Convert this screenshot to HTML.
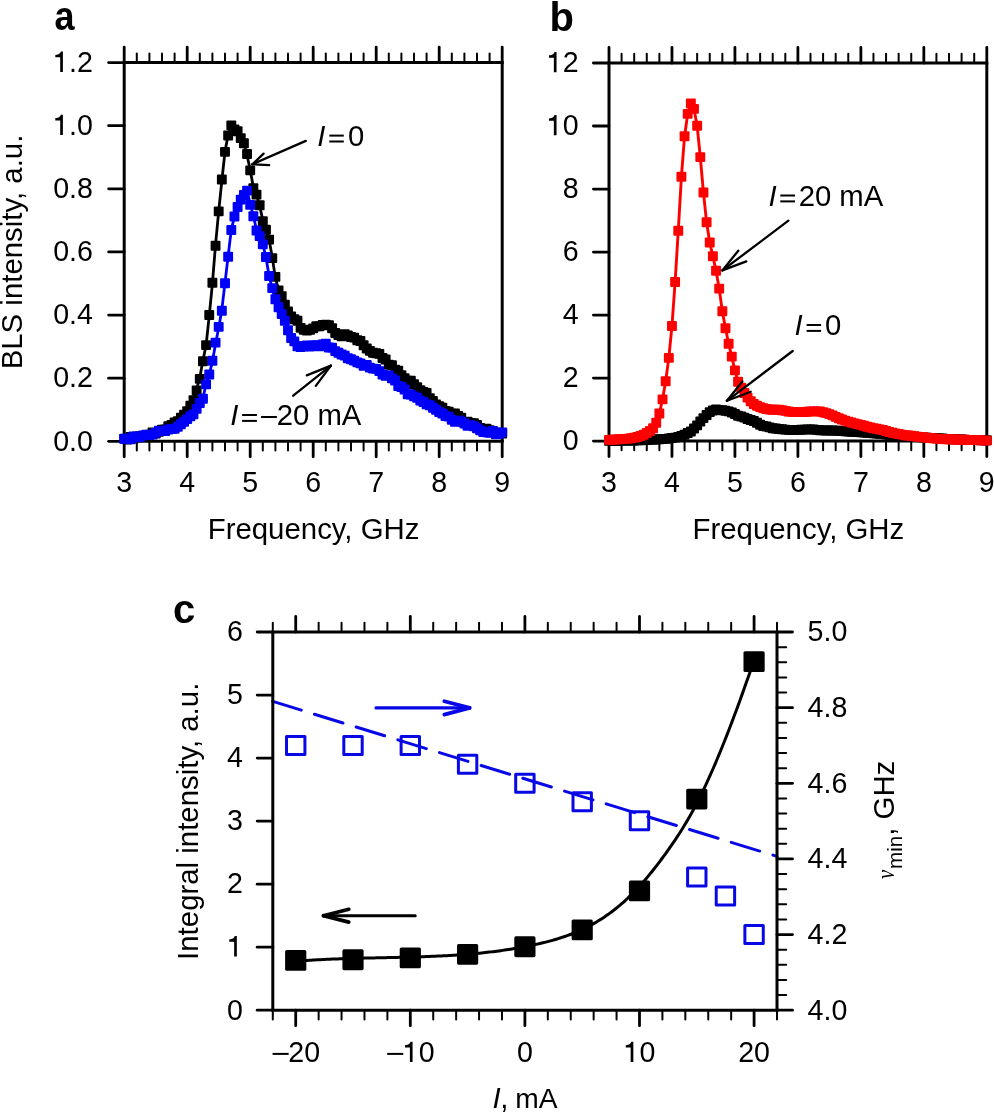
<!DOCTYPE html>
<html><head><meta charset="utf-8"><style>
html,body{margin:0;padding:0;background:#fff;}
body{width:994px;height:1113px;overflow:hidden;}
svg{display:block;will-change:transform;}
text{font-family:"Liberation Sans",sans-serif;fill:#000;}
</style></head><body>
<svg width="994" height="1113" viewBox="0 0 994 1113">
<rect width="994" height="1113" fill="#fff"/>
<line x1="124.20" y1="62.60" x2="124.20" y2="47.10" stroke="#000" stroke-width="2.8" stroke-linecap="round"/>
<line x1="124.20" y1="441.30" x2="124.20" y2="456.80" stroke="#000" stroke-width="2.8" stroke-linecap="round"/>
<text x="124.20" y="492.40" font-size="28.6" text-anchor="middle" >3</text>
<line x1="136.80" y1="62.60" x2="136.80" y2="53.40" stroke="#000" stroke-width="2.0" stroke-linecap="round"/>
<line x1="136.80" y1="441.30" x2="136.80" y2="450.50" stroke="#000" stroke-width="2.0" stroke-linecap="round"/>
<line x1="149.40" y1="62.60" x2="149.40" y2="53.40" stroke="#000" stroke-width="2.0" stroke-linecap="round"/>
<line x1="149.40" y1="441.30" x2="149.40" y2="450.50" stroke="#000" stroke-width="2.0" stroke-linecap="round"/>
<line x1="162.00" y1="62.60" x2="162.00" y2="53.40" stroke="#000" stroke-width="2.0" stroke-linecap="round"/>
<line x1="162.00" y1="441.30" x2="162.00" y2="450.50" stroke="#000" stroke-width="2.0" stroke-linecap="round"/>
<line x1="174.60" y1="62.60" x2="174.60" y2="53.40" stroke="#000" stroke-width="2.0" stroke-linecap="round"/>
<line x1="174.60" y1="441.30" x2="174.60" y2="450.50" stroke="#000" stroke-width="2.0" stroke-linecap="round"/>
<line x1="187.20" y1="62.60" x2="187.20" y2="47.10" stroke="#000" stroke-width="2.8" stroke-linecap="round"/>
<line x1="187.20" y1="441.30" x2="187.20" y2="456.80" stroke="#000" stroke-width="2.8" stroke-linecap="round"/>
<text x="187.20" y="492.40" font-size="28.6" text-anchor="middle" >4</text>
<line x1="199.80" y1="62.60" x2="199.80" y2="53.40" stroke="#000" stroke-width="2.0" stroke-linecap="round"/>
<line x1="199.80" y1="441.30" x2="199.80" y2="450.50" stroke="#000" stroke-width="2.0" stroke-linecap="round"/>
<line x1="212.40" y1="62.60" x2="212.40" y2="53.40" stroke="#000" stroke-width="2.0" stroke-linecap="round"/>
<line x1="212.40" y1="441.30" x2="212.40" y2="450.50" stroke="#000" stroke-width="2.0" stroke-linecap="round"/>
<line x1="225.00" y1="62.60" x2="225.00" y2="53.40" stroke="#000" stroke-width="2.0" stroke-linecap="round"/>
<line x1="225.00" y1="441.30" x2="225.00" y2="450.50" stroke="#000" stroke-width="2.0" stroke-linecap="round"/>
<line x1="237.60" y1="62.60" x2="237.60" y2="53.40" stroke="#000" stroke-width="2.0" stroke-linecap="round"/>
<line x1="237.60" y1="441.30" x2="237.60" y2="450.50" stroke="#000" stroke-width="2.0" stroke-linecap="round"/>
<line x1="250.20" y1="62.60" x2="250.20" y2="47.10" stroke="#000" stroke-width="2.8" stroke-linecap="round"/>
<line x1="250.20" y1="441.30" x2="250.20" y2="456.80" stroke="#000" stroke-width="2.8" stroke-linecap="round"/>
<text x="250.20" y="492.40" font-size="28.6" text-anchor="middle" >5</text>
<line x1="262.80" y1="62.60" x2="262.80" y2="53.40" stroke="#000" stroke-width="2.0" stroke-linecap="round"/>
<line x1="262.80" y1="441.30" x2="262.80" y2="450.50" stroke="#000" stroke-width="2.0" stroke-linecap="round"/>
<line x1="275.40" y1="62.60" x2="275.40" y2="53.40" stroke="#000" stroke-width="2.0" stroke-linecap="round"/>
<line x1="275.40" y1="441.30" x2="275.40" y2="450.50" stroke="#000" stroke-width="2.0" stroke-linecap="round"/>
<line x1="288.00" y1="62.60" x2="288.00" y2="53.40" stroke="#000" stroke-width="2.0" stroke-linecap="round"/>
<line x1="288.00" y1="441.30" x2="288.00" y2="450.50" stroke="#000" stroke-width="2.0" stroke-linecap="round"/>
<line x1="300.60" y1="62.60" x2="300.60" y2="53.40" stroke="#000" stroke-width="2.0" stroke-linecap="round"/>
<line x1="300.60" y1="441.30" x2="300.60" y2="450.50" stroke="#000" stroke-width="2.0" stroke-linecap="round"/>
<line x1="313.20" y1="62.60" x2="313.20" y2="47.10" stroke="#000" stroke-width="2.8" stroke-linecap="round"/>
<line x1="313.20" y1="441.30" x2="313.20" y2="456.80" stroke="#000" stroke-width="2.8" stroke-linecap="round"/>
<text x="313.20" y="492.40" font-size="28.6" text-anchor="middle" >6</text>
<line x1="325.80" y1="62.60" x2="325.80" y2="53.40" stroke="#000" stroke-width="2.0" stroke-linecap="round"/>
<line x1="325.80" y1="441.30" x2="325.80" y2="450.50" stroke="#000" stroke-width="2.0" stroke-linecap="round"/>
<line x1="338.40" y1="62.60" x2="338.40" y2="53.40" stroke="#000" stroke-width="2.0" stroke-linecap="round"/>
<line x1="338.40" y1="441.30" x2="338.40" y2="450.50" stroke="#000" stroke-width="2.0" stroke-linecap="round"/>
<line x1="351.00" y1="62.60" x2="351.00" y2="53.40" stroke="#000" stroke-width="2.0" stroke-linecap="round"/>
<line x1="351.00" y1="441.30" x2="351.00" y2="450.50" stroke="#000" stroke-width="2.0" stroke-linecap="round"/>
<line x1="363.60" y1="62.60" x2="363.60" y2="53.40" stroke="#000" stroke-width="2.0" stroke-linecap="round"/>
<line x1="363.60" y1="441.30" x2="363.60" y2="450.50" stroke="#000" stroke-width="2.0" stroke-linecap="round"/>
<line x1="376.20" y1="62.60" x2="376.20" y2="47.10" stroke="#000" stroke-width="2.8" stroke-linecap="round"/>
<line x1="376.20" y1="441.30" x2="376.20" y2="456.80" stroke="#000" stroke-width="2.8" stroke-linecap="round"/>
<text x="376.20" y="492.40" font-size="28.6" text-anchor="middle" >7</text>
<line x1="388.80" y1="62.60" x2="388.80" y2="53.40" stroke="#000" stroke-width="2.0" stroke-linecap="round"/>
<line x1="388.80" y1="441.30" x2="388.80" y2="450.50" stroke="#000" stroke-width="2.0" stroke-linecap="round"/>
<line x1="401.40" y1="62.60" x2="401.40" y2="53.40" stroke="#000" stroke-width="2.0" stroke-linecap="round"/>
<line x1="401.40" y1="441.30" x2="401.40" y2="450.50" stroke="#000" stroke-width="2.0" stroke-linecap="round"/>
<line x1="414.00" y1="62.60" x2="414.00" y2="53.40" stroke="#000" stroke-width="2.0" stroke-linecap="round"/>
<line x1="414.00" y1="441.30" x2="414.00" y2="450.50" stroke="#000" stroke-width="2.0" stroke-linecap="round"/>
<line x1="426.60" y1="62.60" x2="426.60" y2="53.40" stroke="#000" stroke-width="2.0" stroke-linecap="round"/>
<line x1="426.60" y1="441.30" x2="426.60" y2="450.50" stroke="#000" stroke-width="2.0" stroke-linecap="round"/>
<line x1="439.20" y1="62.60" x2="439.20" y2="47.10" stroke="#000" stroke-width="2.8" stroke-linecap="round"/>
<line x1="439.20" y1="441.30" x2="439.20" y2="456.80" stroke="#000" stroke-width="2.8" stroke-linecap="round"/>
<text x="439.20" y="492.40" font-size="28.6" text-anchor="middle" >8</text>
<line x1="451.80" y1="62.60" x2="451.80" y2="53.40" stroke="#000" stroke-width="2.0" stroke-linecap="round"/>
<line x1="451.80" y1="441.30" x2="451.80" y2="450.50" stroke="#000" stroke-width="2.0" stroke-linecap="round"/>
<line x1="464.40" y1="62.60" x2="464.40" y2="53.40" stroke="#000" stroke-width="2.0" stroke-linecap="round"/>
<line x1="464.40" y1="441.30" x2="464.40" y2="450.50" stroke="#000" stroke-width="2.0" stroke-linecap="round"/>
<line x1="477.00" y1="62.60" x2="477.00" y2="53.40" stroke="#000" stroke-width="2.0" stroke-linecap="round"/>
<line x1="477.00" y1="441.30" x2="477.00" y2="450.50" stroke="#000" stroke-width="2.0" stroke-linecap="round"/>
<line x1="489.60" y1="62.60" x2="489.60" y2="53.40" stroke="#000" stroke-width="2.0" stroke-linecap="round"/>
<line x1="489.60" y1="441.30" x2="489.60" y2="450.50" stroke="#000" stroke-width="2.0" stroke-linecap="round"/>
<line x1="502.20" y1="62.60" x2="502.20" y2="47.10" stroke="#000" stroke-width="2.8" stroke-linecap="round"/>
<line x1="502.20" y1="441.30" x2="502.20" y2="456.80" stroke="#000" stroke-width="2.8" stroke-linecap="round"/>
<text x="502.20" y="492.40" font-size="28.6" text-anchor="middle" >9</text>
<line x1="124.20" y1="441.30" x2="108.60" y2="441.30" stroke="#000" stroke-width="2.8" stroke-linecap="round"/>
<text x="53.14" y="450.60" font-size="28.6">0.0</text>
<line x1="124.20" y1="378.18" x2="108.60" y2="378.18" stroke="#000" stroke-width="2.8" stroke-linecap="round"/>
<text x="53.14" y="387.48" font-size="28.6">0.2</text>
<line x1="124.20" y1="315.07" x2="108.60" y2="315.07" stroke="#000" stroke-width="2.8" stroke-linecap="round"/>
<text x="53.14" y="324.37" font-size="28.6">0.4</text>
<line x1="124.20" y1="251.95" x2="108.60" y2="251.95" stroke="#000" stroke-width="2.8" stroke-linecap="round"/>
<text x="53.14" y="261.25" font-size="28.6">0.6</text>
<line x1="124.20" y1="188.83" x2="108.60" y2="188.83" stroke="#000" stroke-width="2.8" stroke-linecap="round"/>
<text x="53.14" y="198.13" font-size="28.6">0.8</text>
<line x1="124.20" y1="125.72" x2="108.60" y2="125.72" stroke="#000" stroke-width="2.8" stroke-linecap="round"/>
<path transform="translate(53.14,135.02) scale(28.600,-28.600)" d="M0.247,0 L0.341,0 L0.341,0.713 L0.272,0.713 C0.252,0.655 0.205,0.598 0.076,0.592 L0.076,0.512 L0.247,0.512 Z" fill="#000"/>
<text x="53.14" y="135.02" font-size="28.6"> .0</text>
<line x1="124.20" y1="62.60" x2="108.60" y2="62.60" stroke="#000" stroke-width="2.8" stroke-linecap="round"/>
<path transform="translate(53.14,71.90) scale(28.600,-28.600)" d="M0.247,0 L0.341,0 L0.341,0.713 L0.272,0.713 C0.252,0.655 0.205,0.598 0.076,0.592 L0.076,0.512 L0.247,0.512 Z" fill="#000"/>
<text x="53.14" y="71.90" font-size="28.6"> .2</text>
<line x1="122.70" y1="62.60" x2="503.70" y2="62.60" stroke="#000" stroke-width="3" />
<line x1="122.70" y1="441.30" x2="503.70" y2="441.30" stroke="#000" stroke-width="3" />
<line x1="124.20" y1="62.60" x2="124.20" y2="441.30" stroke="#000" stroke-width="3" />
<line x1="502.20" y1="62.60" x2="502.20" y2="441.30" stroke="#000" stroke-width="3" />
<path d="M124.20,438.60 L127.35,438.23 L130.50,437.82 L133.65,437.39 L136.80,436.94 L139.95,436.48 L143.10,435.96 L146.25,435.34 L149.40,434.60 L152.55,433.75 L155.70,432.77 L158.85,431.61 L162.00,430.26 L165.15,428.70 L168.30,426.87 L171.45,425.09 L174.60,423.43 L177.75,421.35 L180.90,418.65 L184.05,415.31 L187.20,410.46 L190.35,406.43 L193.50,400.21 L196.65,389.20 L199.80,377.60 L202.95,360.60 L206.10,345.00 L209.25,315.60 L212.40,283.70 L215.55,244.50 L218.70,211.30 L221.85,180.60 L225.00,151.50 L228.15,134.80 L231.30,125.10 L234.45,128.30 L237.60,132.60 L240.75,138.00 L243.90,143.40 L247.05,155.30 L250.20,170.00 L253.35,187.20 L256.50,194.40 L259.65,205.90 L262.80,220.30 L265.95,229.67 L269.10,239.60 L272.25,257.40 L275.40,277.90 L278.55,289.50 L281.70,295.80 L284.85,303.90 L288.00,312.40 L291.15,315.60 L294.30,320.10 L297.45,321.96 L300.60,326.86 L303.75,328.83 L306.90,329.52 L310.05,329.80 L313.20,329.00 L316.35,327.63 L319.50,325.93 L322.65,324.34 L325.80,323.68 L328.95,325.80 L332.10,329.10 L335.25,332.63 L338.40,334.14 L341.55,335.02 L344.70,335.26 L347.85,335.38 L351.00,335.93 L354.15,337.80 L357.30,339.96 L360.45,342.26 L363.60,344.72 L366.75,347.40 L369.90,349.96 L373.05,351.63 L376.20,352.86 L379.35,354.63 L382.50,357.31 L385.65,360.34 L388.80,363.72 L391.95,366.52 L395.10,368.85 L398.25,371.67 L401.40,375.50 L404.55,378.60 L407.70,380.17 L410.85,381.62 L414.00,384.55 L417.15,388.56 L420.30,390.93 L423.45,392.28 L426.60,394.15 L429.75,397.71 L432.90,401.32 L436.05,403.79 L439.20,405.89 L442.35,407.91 L445.50,409.82 L448.65,411.45 L451.80,412.72 L454.95,414.00 L458.10,415.78 L461.25,418.57 L464.40,420.77 L467.55,422.37 L470.70,423.51 L473.85,424.36 L477.00,425.62 L480.15,427.32 L483.30,428.62 L486.45,429.68 L489.60,430.53 L492.75,431.27 L495.90,432.12 L499.05,432.86 L502.20,433.20" fill="none" stroke="#000" stroke-width="2.8" stroke-linejoin="round"/>
<rect x="119.25" y="433.68" width="9.9" height="9.9" rx="1" fill="#000"/>
<rect x="122.40" y="434.54" width="9.9" height="9.9" rx="1" fill="#000"/>
<rect x="125.55" y="431.88" width="9.9" height="9.9" rx="1" fill="#000"/>
<rect x="128.70" y="433.70" width="9.9" height="9.9" rx="1" fill="#000"/>
<rect x="131.85" y="431.47" width="9.9" height="9.9" rx="1" fill="#000"/>
<rect x="135.00" y="431.31" width="9.9" height="9.9" rx="1" fill="#000"/>
<rect x="138.15" y="431.92" width="9.9" height="9.9" rx="1" fill="#000"/>
<rect x="141.30" y="430.14" width="9.9" height="9.9" rx="1" fill="#000"/>
<rect x="144.45" y="429.79" width="9.9" height="9.9" rx="1" fill="#000"/>
<rect x="147.60" y="427.47" width="9.9" height="9.9" rx="1" fill="#000"/>
<rect x="150.75" y="428.53" width="9.9" height="9.9" rx="1" fill="#000"/>
<rect x="153.90" y="426.77" width="9.9" height="9.9" rx="1" fill="#000"/>
<rect x="157.05" y="424.83" width="9.9" height="9.9" rx="1" fill="#000"/>
<rect x="160.20" y="424.55" width="9.9" height="9.9" rx="1" fill="#000"/>
<rect x="163.35" y="421.37" width="9.9" height="9.9" rx="1" fill="#000"/>
<rect x="166.50" y="420.01" width="9.9" height="9.9" rx="1" fill="#000"/>
<rect x="169.65" y="417.46" width="9.9" height="9.9" rx="1" fill="#000"/>
<rect x="172.80" y="416.13" width="9.9" height="9.9" rx="1" fill="#000"/>
<rect x="175.95" y="412.87" width="9.9" height="9.9" rx="1" fill="#000"/>
<rect x="179.10" y="409.70" width="9.9" height="9.9" rx="1" fill="#000"/>
<rect x="182.25" y="406.21" width="9.9" height="9.9" rx="1" fill="#000"/>
<rect x="185.40" y="400.87" width="9.9" height="9.9" rx="1" fill="#000"/>
<rect x="188.55" y="395.22" width="9.9" height="9.9" rx="1" fill="#000"/>
<rect x="191.70" y="385.60" width="9.9" height="9.9" rx="1" fill="#000"/>
<rect x="194.85" y="373.94" width="9.9" height="9.9" rx="1" fill="#000"/>
<rect x="198.00" y="356.28" width="9.9" height="9.9" rx="1" fill="#000"/>
<rect x="201.15" y="340.17" width="9.9" height="9.9" rx="1" fill="#000"/>
<rect x="204.30" y="310.03" width="9.9" height="9.9" rx="1" fill="#000"/>
<rect x="207.45" y="277.80" width="9.9" height="9.9" rx="1" fill="#000"/>
<rect x="210.60" y="240.87" width="9.9" height="9.9" rx="1" fill="#000"/>
<rect x="213.75" y="206.39" width="9.9" height="9.9" rx="1" fill="#000"/>
<rect x="216.90" y="174.57" width="9.9" height="9.9" rx="1" fill="#000"/>
<rect x="220.05" y="146.90" width="9.9" height="9.9" rx="1" fill="#000"/>
<rect x="223.20" y="130.62" width="9.9" height="9.9" rx="1" fill="#000"/>
<rect x="226.35" y="120.47" width="9.9" height="9.9" rx="1" fill="#000"/>
<rect x="229.50" y="124.52" width="9.9" height="9.9" rx="1" fill="#000"/>
<rect x="232.65" y="126.36" width="9.9" height="9.9" rx="1" fill="#000"/>
<rect x="235.80" y="133.13" width="9.9" height="9.9" rx="1" fill="#000"/>
<rect x="238.95" y="138.34" width="9.9" height="9.9" rx="1" fill="#000"/>
<rect x="242.10" y="149.12" width="9.9" height="9.9" rx="1" fill="#000"/>
<rect x="245.25" y="165.45" width="9.9" height="9.9" rx="1" fill="#000"/>
<rect x="248.40" y="183.24" width="9.9" height="9.9" rx="1" fill="#000"/>
<rect x="251.55" y="189.71" width="9.9" height="9.9" rx="1" fill="#000"/>
<rect x="254.70" y="200.28" width="9.9" height="9.9" rx="1" fill="#000"/>
<rect x="257.85" y="216.30" width="9.9" height="9.9" rx="1" fill="#000"/>
<rect x="261.00" y="224.74" width="9.9" height="9.9" rx="1" fill="#000"/>
<rect x="264.15" y="234.68" width="9.9" height="9.9" rx="1" fill="#000"/>
<rect x="267.30" y="253.16" width="9.9" height="9.9" rx="1" fill="#000"/>
<rect x="270.45" y="271.96" width="9.9" height="9.9" rx="1" fill="#000"/>
<rect x="273.60" y="285.44" width="9.9" height="9.9" rx="1" fill="#000"/>
<rect x="276.75" y="291.36" width="9.9" height="9.9" rx="1" fill="#000"/>
<rect x="279.90" y="299.75" width="9.9" height="9.9" rx="1" fill="#000"/>
<rect x="283.05" y="306.59" width="9.9" height="9.9" rx="1" fill="#000"/>
<rect x="286.20" y="311.50" width="9.9" height="9.9" rx="1" fill="#000"/>
<rect x="289.35" y="314.29" width="9.9" height="9.9" rx="1" fill="#000"/>
<rect x="292.50" y="315.84" width="9.9" height="9.9" rx="1" fill="#000"/>
<rect x="295.65" y="322.90" width="9.9" height="9.9" rx="1" fill="#000"/>
<rect x="298.80" y="324.89" width="9.9" height="9.9" rx="1" fill="#000"/>
<rect x="301.95" y="325.62" width="9.9" height="9.9" rx="1" fill="#000"/>
<rect x="305.10" y="324.77" width="9.9" height="9.9" rx="1" fill="#000"/>
<rect x="308.25" y="323.42" width="9.9" height="9.9" rx="1" fill="#000"/>
<rect x="311.40" y="321.30" width="9.9" height="9.9" rx="1" fill="#000"/>
<rect x="314.55" y="321.39" width="9.9" height="9.9" rx="1" fill="#000"/>
<rect x="317.70" y="320.01" width="9.9" height="9.9" rx="1" fill="#000"/>
<rect x="320.85" y="319.67" width="9.9" height="9.9" rx="1" fill="#000"/>
<rect x="324.00" y="320.24" width="9.9" height="9.9" rx="1" fill="#000"/>
<rect x="327.15" y="323.36" width="9.9" height="9.9" rx="1" fill="#000"/>
<rect x="330.30" y="328.07" width="9.9" height="9.9" rx="1" fill="#000"/>
<rect x="333.45" y="330.05" width="9.9" height="9.9" rx="1" fill="#000"/>
<rect x="336.60" y="331.37" width="9.9" height="9.9" rx="1" fill="#000"/>
<rect x="339.75" y="329.33" width="9.9" height="9.9" rx="1" fill="#000"/>
<rect x="342.90" y="330.38" width="9.9" height="9.9" rx="1" fill="#000"/>
<rect x="346.05" y="332.08" width="9.9" height="9.9" rx="1" fill="#000"/>
<rect x="349.20" y="332.64" width="9.9" height="9.9" rx="1" fill="#000"/>
<rect x="352.35" y="335.26" width="9.9" height="9.9" rx="1" fill="#000"/>
<rect x="355.50" y="335.98" width="9.9" height="9.9" rx="1" fill="#000"/>
<rect x="358.65" y="340.26" width="9.9" height="9.9" rx="1" fill="#000"/>
<rect x="361.80" y="343.62" width="9.9" height="9.9" rx="1" fill="#000"/>
<rect x="364.95" y="345.93" width="9.9" height="9.9" rx="1" fill="#000"/>
<rect x="368.10" y="347.76" width="9.9" height="9.9" rx="1" fill="#000"/>
<rect x="371.25" y="348.36" width="9.9" height="9.9" rx="1" fill="#000"/>
<rect x="374.40" y="348.96" width="9.9" height="9.9" rx="1" fill="#000"/>
<rect x="377.55" y="353.12" width="9.9" height="9.9" rx="1" fill="#000"/>
<rect x="380.70" y="354.58" width="9.9" height="9.9" rx="1" fill="#000"/>
<rect x="383.85" y="359.69" width="9.9" height="9.9" rx="1" fill="#000"/>
<rect x="387.00" y="360.34" width="9.9" height="9.9" rx="1" fill="#000"/>
<rect x="390.15" y="364.81" width="9.9" height="9.9" rx="1" fill="#000"/>
<rect x="393.30" y="365.78" width="9.9" height="9.9" rx="1" fill="#000"/>
<rect x="396.45" y="370.20" width="9.9" height="9.9" rx="1" fill="#000"/>
<rect x="399.60" y="373.14" width="9.9" height="9.9" rx="1" fill="#000"/>
<rect x="402.75" y="375.76" width="9.9" height="9.9" rx="1" fill="#000"/>
<rect x="405.90" y="375.77" width="9.9" height="9.9" rx="1" fill="#000"/>
<rect x="409.05" y="379.31" width="9.9" height="9.9" rx="1" fill="#000"/>
<rect x="412.20" y="382.23" width="9.9" height="9.9" rx="1" fill="#000"/>
<rect x="415.35" y="385.32" width="9.9" height="9.9" rx="1" fill="#000"/>
<rect x="418.50" y="387.11" width="9.9" height="9.9" rx="1" fill="#000"/>
<rect x="421.65" y="388.10" width="9.9" height="9.9" rx="1" fill="#000"/>
<rect x="424.80" y="393.13" width="9.9" height="9.9" rx="1" fill="#000"/>
<rect x="427.95" y="396.04" width="9.9" height="9.9" rx="1" fill="#000"/>
<rect x="431.10" y="399.47" width="9.9" height="9.9" rx="1" fill="#000"/>
<rect x="434.25" y="401.37" width="9.9" height="9.9" rx="1" fill="#000"/>
<rect x="437.40" y="402.77" width="9.9" height="9.9" rx="1" fill="#000"/>
<rect x="440.55" y="405.90" width="9.9" height="9.9" rx="1" fill="#000"/>
<rect x="443.70" y="406.87" width="9.9" height="9.9" rx="1" fill="#000"/>
<rect x="446.85" y="408.64" width="9.9" height="9.9" rx="1" fill="#000"/>
<rect x="450.00" y="408.60" width="9.9" height="9.9" rx="1" fill="#000"/>
<rect x="453.15" y="410.95" width="9.9" height="9.9" rx="1" fill="#000"/>
<rect x="456.30" y="412.77" width="9.9" height="9.9" rx="1" fill="#000"/>
<rect x="459.45" y="417.21" width="9.9" height="9.9" rx="1" fill="#000"/>
<rect x="462.60" y="416.70" width="9.9" height="9.9" rx="1" fill="#000"/>
<rect x="465.75" y="417.88" width="9.9" height="9.9" rx="1" fill="#000"/>
<rect x="468.90" y="418.21" width="9.9" height="9.9" rx="1" fill="#000"/>
<rect x="472.05" y="419.99" width="9.9" height="9.9" rx="1" fill="#000"/>
<rect x="475.20" y="423.11" width="9.9" height="9.9" rx="1" fill="#000"/>
<rect x="478.35" y="424.22" width="9.9" height="9.9" rx="1" fill="#000"/>
<rect x="481.50" y="423.69" width="9.9" height="9.9" rx="1" fill="#000"/>
<rect x="484.65" y="425.23" width="9.9" height="9.9" rx="1" fill="#000"/>
<rect x="487.80" y="426.09" width="9.9" height="9.9" rx="1" fill="#000"/>
<rect x="490.95" y="427.63" width="9.9" height="9.9" rx="1" fill="#000"/>
<rect x="494.10" y="427.79" width="9.9" height="9.9" rx="1" fill="#000"/>
<rect x="497.25" y="428.49" width="9.9" height="9.9" rx="1" fill="#000"/>
<path d="M124.20,439.50 L127.35,438.99 L130.50,438.42 L133.65,437.71 L136.80,436.99 L139.95,436.50 L143.10,436.26 L146.25,436.03 L149.40,435.53 L152.55,434.22 L155.70,432.72 L158.85,431.79 L162.00,431.18 L165.15,430.57 L168.30,429.75 L171.45,428.75 L174.60,427.58 L177.75,426.23 L180.90,424.61 L184.05,422.59 L187.20,419.57 L190.35,416.28 L193.50,413.12 L196.65,408.10 L199.80,403.50 L202.95,397.60 L206.10,384.50 L209.25,374.00 L212.40,361.80 L215.55,343.70 L218.70,327.70 L221.85,309.70 L225.00,282.80 L228.15,255.80 L231.30,229.60 L234.45,216.70 L237.60,207.00 L240.75,199.40 L243.90,194.00 L247.05,190.80 L250.20,203.80 L253.35,216.00 L256.50,229.60 L259.65,236.10 L262.80,243.80 L265.95,257.40 L269.10,276.00 L272.25,288.90 L275.40,300.40 L278.55,308.60 L281.70,313.60 L284.85,320.93 L288.00,329.13 L291.15,336.99 L294.30,341.68 L297.45,344.90 L300.60,346.89 L303.75,345.44 L306.90,345.74 L310.05,347.50 L313.20,346.49 L316.35,346.00 L319.50,346.00 L322.65,345.51 L325.80,345.05 L328.95,346.53 L332.10,348.72 L335.25,351.23 L338.40,352.84 L341.55,354.21 L344.70,355.60 L347.85,356.97 L351.00,358.55 L354.15,360.40 L357.30,362.02 L360.45,363.33 L363.60,364.56 L366.75,365.80 L369.90,367.07 L373.05,368.52 L376.20,370.13 L379.35,371.71 L382.50,373.23 L385.65,374.90 L388.80,376.77 L391.95,378.97 L395.10,381.93 L398.25,385.10 L401.40,388.08 L404.55,390.71 L407.70,392.85 L410.85,394.82 L414.00,396.92 L417.15,399.04 L420.30,400.90 L423.45,402.53 L426.60,404.34 L429.75,406.58 L432.90,408.78 L436.05,410.61 L439.20,412.30 L442.35,414.05 L445.50,415.81 L448.65,417.27 L451.80,418.61 L454.95,420.59 L458.10,421.85 L461.25,422.39 L464.40,423.31 L467.55,425.07 L470.70,426.32 L473.85,427.17 L477.00,428.39 L480.15,429.94 L483.30,430.80 L486.45,431.37 L489.60,431.87 L492.75,432.32 L495.90,432.90 L499.05,433.38 L502.20,433.50" fill="none" stroke="#0000f8" stroke-width="2.8" stroke-linejoin="round"/>
<rect x="119.25" y="433.88" width="9.9" height="9.9" rx="1" fill="#0000f8"/>
<rect x="122.40" y="433.48" width="9.9" height="9.9" rx="1" fill="#0000f8"/>
<rect x="125.55" y="434.35" width="9.9" height="9.9" rx="1" fill="#0000f8"/>
<rect x="128.70" y="431.62" width="9.9" height="9.9" rx="1" fill="#0000f8"/>
<rect x="131.85" y="432.32" width="9.9" height="9.9" rx="1" fill="#0000f8"/>
<rect x="135.00" y="432.19" width="9.9" height="9.9" rx="1" fill="#0000f8"/>
<rect x="138.15" y="430.43" width="9.9" height="9.9" rx="1" fill="#0000f8"/>
<rect x="141.30" y="429.83" width="9.9" height="9.9" rx="1" fill="#0000f8"/>
<rect x="144.45" y="429.95" width="9.9" height="9.9" rx="1" fill="#0000f8"/>
<rect x="147.60" y="429.71" width="9.9" height="9.9" rx="1" fill="#0000f8"/>
<rect x="150.75" y="427.95" width="9.9" height="9.9" rx="1" fill="#0000f8"/>
<rect x="153.90" y="425.86" width="9.9" height="9.9" rx="1" fill="#0000f8"/>
<rect x="157.05" y="426.05" width="9.9" height="9.9" rx="1" fill="#0000f8"/>
<rect x="160.20" y="426.10" width="9.9" height="9.9" rx="1" fill="#0000f8"/>
<rect x="163.35" y="424.59" width="9.9" height="9.9" rx="1" fill="#0000f8"/>
<rect x="166.50" y="424.18" width="9.9" height="9.9" rx="1" fill="#0000f8"/>
<rect x="169.65" y="423.94" width="9.9" height="9.9" rx="1" fill="#0000f8"/>
<rect x="172.80" y="421.79" width="9.9" height="9.9" rx="1" fill="#0000f8"/>
<rect x="175.95" y="419.36" width="9.9" height="9.9" rx="1" fill="#0000f8"/>
<rect x="179.10" y="416.77" width="9.9" height="9.9" rx="1" fill="#0000f8"/>
<rect x="182.25" y="414.19" width="9.9" height="9.9" rx="1" fill="#0000f8"/>
<rect x="185.40" y="411.36" width="9.9" height="9.9" rx="1" fill="#0000f8"/>
<rect x="188.55" y="409.27" width="9.9" height="9.9" rx="1" fill="#0000f8"/>
<rect x="191.70" y="403.92" width="9.9" height="9.9" rx="1" fill="#0000f8"/>
<rect x="194.85" y="398.04" width="9.9" height="9.9" rx="1" fill="#0000f8"/>
<rect x="198.00" y="393.84" width="9.9" height="9.9" rx="1" fill="#0000f8"/>
<rect x="201.15" y="379.47" width="9.9" height="9.9" rx="1" fill="#0000f8"/>
<rect x="204.30" y="369.59" width="9.9" height="9.9" rx="1" fill="#0000f8"/>
<rect x="207.45" y="355.75" width="9.9" height="9.9" rx="1" fill="#0000f8"/>
<rect x="210.60" y="337.64" width="9.9" height="9.9" rx="1" fill="#0000f8"/>
<rect x="213.75" y="321.92" width="9.9" height="9.9" rx="1" fill="#0000f8"/>
<rect x="216.90" y="305.83" width="9.9" height="9.9" rx="1" fill="#0000f8"/>
<rect x="220.05" y="278.35" width="9.9" height="9.9" rx="1" fill="#0000f8"/>
<rect x="223.20" y="251.83" width="9.9" height="9.9" rx="1" fill="#0000f8"/>
<rect x="226.35" y="225.05" width="9.9" height="9.9" rx="1" fill="#0000f8"/>
<rect x="229.50" y="211.49" width="9.9" height="9.9" rx="1" fill="#0000f8"/>
<rect x="232.65" y="202.10" width="9.9" height="9.9" rx="1" fill="#0000f8"/>
<rect x="235.80" y="194.71" width="9.9" height="9.9" rx="1" fill="#0000f8"/>
<rect x="238.95" y="190.06" width="9.9" height="9.9" rx="1" fill="#0000f8"/>
<rect x="242.10" y="185.68" width="9.9" height="9.9" rx="1" fill="#0000f8"/>
<rect x="245.25" y="199.95" width="9.9" height="9.9" rx="1" fill="#0000f8"/>
<rect x="248.40" y="211.37" width="9.9" height="9.9" rx="1" fill="#0000f8"/>
<rect x="251.55" y="225.57" width="9.9" height="9.9" rx="1" fill="#0000f8"/>
<rect x="254.70" y="231.14" width="9.9" height="9.9" rx="1" fill="#0000f8"/>
<rect x="257.85" y="239.39" width="9.9" height="9.9" rx="1" fill="#0000f8"/>
<rect x="261.00" y="252.00" width="9.9" height="9.9" rx="1" fill="#0000f8"/>
<rect x="264.15" y="271.11" width="9.9" height="9.9" rx="1" fill="#0000f8"/>
<rect x="267.30" y="283.16" width="9.9" height="9.9" rx="1" fill="#0000f8"/>
<rect x="270.45" y="294.33" width="9.9" height="9.9" rx="1" fill="#0000f8"/>
<rect x="273.60" y="302.36" width="9.9" height="9.9" rx="1" fill="#0000f8"/>
<rect x="276.75" y="309.22" width="9.9" height="9.9" rx="1" fill="#0000f8"/>
<rect x="279.90" y="315.86" width="9.9" height="9.9" rx="1" fill="#0000f8"/>
<rect x="283.05" y="325.29" width="9.9" height="9.9" rx="1" fill="#0000f8"/>
<rect x="286.20" y="332.98" width="9.9" height="9.9" rx="1" fill="#0000f8"/>
<rect x="289.35" y="336.41" width="9.9" height="9.9" rx="1" fill="#0000f8"/>
<rect x="292.50" y="341.27" width="9.9" height="9.9" rx="1" fill="#0000f8"/>
<rect x="295.65" y="342.20" width="9.9" height="9.9" rx="1" fill="#0000f8"/>
<rect x="298.80" y="341.24" width="9.9" height="9.9" rx="1" fill="#0000f8"/>
<rect x="301.95" y="340.53" width="9.9" height="9.9" rx="1" fill="#0000f8"/>
<rect x="305.10" y="341.70" width="9.9" height="9.9" rx="1" fill="#0000f8"/>
<rect x="308.25" y="340.62" width="9.9" height="9.9" rx="1" fill="#0000f8"/>
<rect x="311.40" y="340.16" width="9.9" height="9.9" rx="1" fill="#0000f8"/>
<rect x="314.55" y="341.34" width="9.9" height="9.9" rx="1" fill="#0000f8"/>
<rect x="317.70" y="339.48" width="9.9" height="9.9" rx="1" fill="#0000f8"/>
<rect x="320.85" y="338.76" width="9.9" height="9.9" rx="1" fill="#0000f8"/>
<rect x="324.00" y="342.52" width="9.9" height="9.9" rx="1" fill="#0000f8"/>
<rect x="327.15" y="342.65" width="9.9" height="9.9" rx="1" fill="#0000f8"/>
<rect x="330.30" y="346.14" width="9.9" height="9.9" rx="1" fill="#0000f8"/>
<rect x="333.45" y="347.85" width="9.9" height="9.9" rx="1" fill="#0000f8"/>
<rect x="336.60" y="349.59" width="9.9" height="9.9" rx="1" fill="#0000f8"/>
<rect x="339.75" y="350.66" width="9.9" height="9.9" rx="1" fill="#0000f8"/>
<rect x="342.90" y="353.24" width="9.9" height="9.9" rx="1" fill="#0000f8"/>
<rect x="346.05" y="354.30" width="9.9" height="9.9" rx="1" fill="#0000f8"/>
<rect x="349.20" y="355.65" width="9.9" height="9.9" rx="1" fill="#0000f8"/>
<rect x="352.35" y="357.40" width="9.9" height="9.9" rx="1" fill="#0000f8"/>
<rect x="355.50" y="358.39" width="9.9" height="9.9" rx="1" fill="#0000f8"/>
<rect x="358.65" y="360.91" width="9.9" height="9.9" rx="1" fill="#0000f8"/>
<rect x="361.80" y="360.08" width="9.9" height="9.9" rx="1" fill="#0000f8"/>
<rect x="364.95" y="362.64" width="9.9" height="9.9" rx="1" fill="#0000f8"/>
<rect x="368.10" y="363.72" width="9.9" height="9.9" rx="1" fill="#0000f8"/>
<rect x="371.25" y="363.90" width="9.9" height="9.9" rx="1" fill="#0000f8"/>
<rect x="374.40" y="366.19" width="9.9" height="9.9" rx="1" fill="#0000f8"/>
<rect x="377.55" y="369.48" width="9.9" height="9.9" rx="1" fill="#0000f8"/>
<rect x="380.70" y="370.75" width="9.9" height="9.9" rx="1" fill="#0000f8"/>
<rect x="383.85" y="370.46" width="9.9" height="9.9" rx="1" fill="#0000f8"/>
<rect x="387.00" y="373.45" width="9.9" height="9.9" rx="1" fill="#0000f8"/>
<rect x="390.15" y="375.61" width="9.9" height="9.9" rx="1" fill="#0000f8"/>
<rect x="393.30" y="381.07" width="9.9" height="9.9" rx="1" fill="#0000f8"/>
<rect x="396.45" y="382.03" width="9.9" height="9.9" rx="1" fill="#0000f8"/>
<rect x="399.60" y="384.52" width="9.9" height="9.9" rx="1" fill="#0000f8"/>
<rect x="402.75" y="389.25" width="9.9" height="9.9" rx="1" fill="#0000f8"/>
<rect x="405.90" y="389.71" width="9.9" height="9.9" rx="1" fill="#0000f8"/>
<rect x="409.05" y="391.46" width="9.9" height="9.9" rx="1" fill="#0000f8"/>
<rect x="412.20" y="392.82" width="9.9" height="9.9" rx="1" fill="#0000f8"/>
<rect x="415.35" y="395.64" width="9.9" height="9.9" rx="1" fill="#0000f8"/>
<rect x="418.50" y="397.21" width="9.9" height="9.9" rx="1" fill="#0000f8"/>
<rect x="421.65" y="399.46" width="9.9" height="9.9" rx="1" fill="#0000f8"/>
<rect x="424.80" y="400.24" width="9.9" height="9.9" rx="1" fill="#0000f8"/>
<rect x="427.95" y="402.84" width="9.9" height="9.9" rx="1" fill="#0000f8"/>
<rect x="431.10" y="404.85" width="9.9" height="9.9" rx="1" fill="#0000f8"/>
<rect x="434.25" y="407.19" width="9.9" height="9.9" rx="1" fill="#0000f8"/>
<rect x="437.40" y="408.55" width="9.9" height="9.9" rx="1" fill="#0000f8"/>
<rect x="440.55" y="411.18" width="9.9" height="9.9" rx="1" fill="#0000f8"/>
<rect x="443.70" y="411.72" width="9.9" height="9.9" rx="1" fill="#0000f8"/>
<rect x="446.85" y="414.81" width="9.9" height="9.9" rx="1" fill="#0000f8"/>
<rect x="450.00" y="416.93" width="9.9" height="9.9" rx="1" fill="#0000f8"/>
<rect x="453.15" y="415.67" width="9.9" height="9.9" rx="1" fill="#0000f8"/>
<rect x="456.30" y="416.63" width="9.9" height="9.9" rx="1" fill="#0000f8"/>
<rect x="459.45" y="418.53" width="9.9" height="9.9" rx="1" fill="#0000f8"/>
<rect x="462.60" y="420.88" width="9.9" height="9.9" rx="1" fill="#0000f8"/>
<rect x="465.75" y="420.15" width="9.9" height="9.9" rx="1" fill="#0000f8"/>
<rect x="468.90" y="421.34" width="9.9" height="9.9" rx="1" fill="#0000f8"/>
<rect x="472.05" y="423.32" width="9.9" height="9.9" rx="1" fill="#0000f8"/>
<rect x="475.20" y="425.46" width="9.9" height="9.9" rx="1" fill="#0000f8"/>
<rect x="478.35" y="426.98" width="9.9" height="9.9" rx="1" fill="#0000f8"/>
<rect x="481.50" y="427.45" width="9.9" height="9.9" rx="1" fill="#0000f8"/>
<rect x="484.65" y="427.74" width="9.9" height="9.9" rx="1" fill="#0000f8"/>
<rect x="487.80" y="426.11" width="9.9" height="9.9" rx="1" fill="#0000f8"/>
<rect x="490.95" y="429.28" width="9.9" height="9.9" rx="1" fill="#0000f8"/>
<rect x="494.10" y="428.76" width="9.9" height="9.9" rx="1" fill="#0000f8"/>
<rect x="497.25" y="427.39" width="9.9" height="9.9" rx="1" fill="#0000f8"/>
<text x="313.60" y="539.40" font-size="29.4" text-anchor="middle" >Frequency, GHz</text>
<text transform="translate(21.7,252) rotate(-90)" font-size="29.4" text-anchor="middle">BLS intensity, a.u.</text>
<text transform="translate(54.5,30.4) scale(0.9,1)" font-size="40" font-weight="bold">a</text>
<line x1="609.00" y1="63.00" x2="609.00" y2="47.50" stroke="#000" stroke-width="2.8" stroke-linecap="round"/>
<line x1="609.00" y1="441.10" x2="609.00" y2="456.60" stroke="#000" stroke-width="2.8" stroke-linecap="round"/>
<text x="609.00" y="492.40" font-size="28.6" text-anchor="middle" >3</text>
<line x1="621.59" y1="63.00" x2="621.59" y2="53.80" stroke="#000" stroke-width="2.0" stroke-linecap="round"/>
<line x1="621.59" y1="441.10" x2="621.59" y2="450.30" stroke="#000" stroke-width="2.0" stroke-linecap="round"/>
<line x1="634.19" y1="63.00" x2="634.19" y2="53.80" stroke="#000" stroke-width="2.0" stroke-linecap="round"/>
<line x1="634.19" y1="441.10" x2="634.19" y2="450.30" stroke="#000" stroke-width="2.0" stroke-linecap="round"/>
<line x1="646.78" y1="63.00" x2="646.78" y2="53.80" stroke="#000" stroke-width="2.0" stroke-linecap="round"/>
<line x1="646.78" y1="441.10" x2="646.78" y2="450.30" stroke="#000" stroke-width="2.0" stroke-linecap="round"/>
<line x1="659.37" y1="63.00" x2="659.37" y2="53.80" stroke="#000" stroke-width="2.0" stroke-linecap="round"/>
<line x1="659.37" y1="441.10" x2="659.37" y2="450.30" stroke="#000" stroke-width="2.0" stroke-linecap="round"/>
<line x1="671.97" y1="63.00" x2="671.97" y2="47.50" stroke="#000" stroke-width="2.8" stroke-linecap="round"/>
<line x1="671.97" y1="441.10" x2="671.97" y2="456.60" stroke="#000" stroke-width="2.8" stroke-linecap="round"/>
<text x="671.97" y="492.40" font-size="28.6" text-anchor="middle" >4</text>
<line x1="684.56" y1="63.00" x2="684.56" y2="53.80" stroke="#000" stroke-width="2.0" stroke-linecap="round"/>
<line x1="684.56" y1="441.10" x2="684.56" y2="450.30" stroke="#000" stroke-width="2.0" stroke-linecap="round"/>
<line x1="697.15" y1="63.00" x2="697.15" y2="53.80" stroke="#000" stroke-width="2.0" stroke-linecap="round"/>
<line x1="697.15" y1="441.10" x2="697.15" y2="450.30" stroke="#000" stroke-width="2.0" stroke-linecap="round"/>
<line x1="709.75" y1="63.00" x2="709.75" y2="53.80" stroke="#000" stroke-width="2.0" stroke-linecap="round"/>
<line x1="709.75" y1="441.10" x2="709.75" y2="450.30" stroke="#000" stroke-width="2.0" stroke-linecap="round"/>
<line x1="722.34" y1="63.00" x2="722.34" y2="53.80" stroke="#000" stroke-width="2.0" stroke-linecap="round"/>
<line x1="722.34" y1="441.10" x2="722.34" y2="450.30" stroke="#000" stroke-width="2.0" stroke-linecap="round"/>
<line x1="734.93" y1="63.00" x2="734.93" y2="47.50" stroke="#000" stroke-width="2.8" stroke-linecap="round"/>
<line x1="734.93" y1="441.10" x2="734.93" y2="456.60" stroke="#000" stroke-width="2.8" stroke-linecap="round"/>
<text x="734.93" y="492.40" font-size="28.6" text-anchor="middle" >5</text>
<line x1="747.53" y1="63.00" x2="747.53" y2="53.80" stroke="#000" stroke-width="2.0" stroke-linecap="round"/>
<line x1="747.53" y1="441.10" x2="747.53" y2="450.30" stroke="#000" stroke-width="2.0" stroke-linecap="round"/>
<line x1="760.12" y1="63.00" x2="760.12" y2="53.80" stroke="#000" stroke-width="2.0" stroke-linecap="round"/>
<line x1="760.12" y1="441.10" x2="760.12" y2="450.30" stroke="#000" stroke-width="2.0" stroke-linecap="round"/>
<line x1="772.71" y1="63.00" x2="772.71" y2="53.80" stroke="#000" stroke-width="2.0" stroke-linecap="round"/>
<line x1="772.71" y1="441.10" x2="772.71" y2="450.30" stroke="#000" stroke-width="2.0" stroke-linecap="round"/>
<line x1="785.31" y1="63.00" x2="785.31" y2="53.80" stroke="#000" stroke-width="2.0" stroke-linecap="round"/>
<line x1="785.31" y1="441.10" x2="785.31" y2="450.30" stroke="#000" stroke-width="2.0" stroke-linecap="round"/>
<line x1="797.90" y1="63.00" x2="797.90" y2="47.50" stroke="#000" stroke-width="2.8" stroke-linecap="round"/>
<line x1="797.90" y1="441.10" x2="797.90" y2="456.60" stroke="#000" stroke-width="2.8" stroke-linecap="round"/>
<text x="797.90" y="492.40" font-size="28.6" text-anchor="middle" >6</text>
<line x1="810.49" y1="63.00" x2="810.49" y2="53.80" stroke="#000" stroke-width="2.0" stroke-linecap="round"/>
<line x1="810.49" y1="441.10" x2="810.49" y2="450.30" stroke="#000" stroke-width="2.0" stroke-linecap="round"/>
<line x1="823.09" y1="63.00" x2="823.09" y2="53.80" stroke="#000" stroke-width="2.0" stroke-linecap="round"/>
<line x1="823.09" y1="441.10" x2="823.09" y2="450.30" stroke="#000" stroke-width="2.0" stroke-linecap="round"/>
<line x1="835.68" y1="63.00" x2="835.68" y2="53.80" stroke="#000" stroke-width="2.0" stroke-linecap="round"/>
<line x1="835.68" y1="441.10" x2="835.68" y2="450.30" stroke="#000" stroke-width="2.0" stroke-linecap="round"/>
<line x1="848.27" y1="63.00" x2="848.27" y2="53.80" stroke="#000" stroke-width="2.0" stroke-linecap="round"/>
<line x1="848.27" y1="441.10" x2="848.27" y2="450.30" stroke="#000" stroke-width="2.0" stroke-linecap="round"/>
<line x1="860.87" y1="63.00" x2="860.87" y2="47.50" stroke="#000" stroke-width="2.8" stroke-linecap="round"/>
<line x1="860.87" y1="441.10" x2="860.87" y2="456.60" stroke="#000" stroke-width="2.8" stroke-linecap="round"/>
<text x="860.87" y="492.40" font-size="28.6" text-anchor="middle" >7</text>
<line x1="873.46" y1="63.00" x2="873.46" y2="53.80" stroke="#000" stroke-width="2.0" stroke-linecap="round"/>
<line x1="873.46" y1="441.10" x2="873.46" y2="450.30" stroke="#000" stroke-width="2.0" stroke-linecap="round"/>
<line x1="886.05" y1="63.00" x2="886.05" y2="53.80" stroke="#000" stroke-width="2.0" stroke-linecap="round"/>
<line x1="886.05" y1="441.10" x2="886.05" y2="450.30" stroke="#000" stroke-width="2.0" stroke-linecap="round"/>
<line x1="898.65" y1="63.00" x2="898.65" y2="53.80" stroke="#000" stroke-width="2.0" stroke-linecap="round"/>
<line x1="898.65" y1="441.10" x2="898.65" y2="450.30" stroke="#000" stroke-width="2.0" stroke-linecap="round"/>
<line x1="911.24" y1="63.00" x2="911.24" y2="53.80" stroke="#000" stroke-width="2.0" stroke-linecap="round"/>
<line x1="911.24" y1="441.10" x2="911.24" y2="450.30" stroke="#000" stroke-width="2.0" stroke-linecap="round"/>
<line x1="923.83" y1="63.00" x2="923.83" y2="47.50" stroke="#000" stroke-width="2.8" stroke-linecap="round"/>
<line x1="923.83" y1="441.10" x2="923.83" y2="456.60" stroke="#000" stroke-width="2.8" stroke-linecap="round"/>
<text x="923.83" y="492.40" font-size="28.6" text-anchor="middle" >8</text>
<line x1="936.43" y1="63.00" x2="936.43" y2="53.80" stroke="#000" stroke-width="2.0" stroke-linecap="round"/>
<line x1="936.43" y1="441.10" x2="936.43" y2="450.30" stroke="#000" stroke-width="2.0" stroke-linecap="round"/>
<line x1="949.02" y1="63.00" x2="949.02" y2="53.80" stroke="#000" stroke-width="2.0" stroke-linecap="round"/>
<line x1="949.02" y1="441.10" x2="949.02" y2="450.30" stroke="#000" stroke-width="2.0" stroke-linecap="round"/>
<line x1="961.61" y1="63.00" x2="961.61" y2="53.80" stroke="#000" stroke-width="2.0" stroke-linecap="round"/>
<line x1="961.61" y1="441.10" x2="961.61" y2="450.30" stroke="#000" stroke-width="2.0" stroke-linecap="round"/>
<line x1="974.21" y1="63.00" x2="974.21" y2="53.80" stroke="#000" stroke-width="2.0" stroke-linecap="round"/>
<line x1="974.21" y1="441.10" x2="974.21" y2="450.30" stroke="#000" stroke-width="2.0" stroke-linecap="round"/>
<line x1="986.80" y1="63.00" x2="986.80" y2="47.50" stroke="#000" stroke-width="2.8" stroke-linecap="round"/>
<line x1="986.80" y1="441.10" x2="986.80" y2="456.60" stroke="#000" stroke-width="2.8" stroke-linecap="round"/>
<text x="986.80" y="492.40" font-size="28.6" text-anchor="middle" >9</text>
<line x1="609.00" y1="441.10" x2="593.40" y2="441.10" stroke="#000" stroke-width="2.8" stroke-linecap="round"/>
<text x="562.69" y="450.40" font-size="28.6">0</text>
<line x1="609.00" y1="378.08" x2="593.40" y2="378.08" stroke="#000" stroke-width="2.8" stroke-linecap="round"/>
<text x="562.69" y="387.38" font-size="28.6">2</text>
<line x1="609.00" y1="315.07" x2="593.40" y2="315.07" stroke="#000" stroke-width="2.8" stroke-linecap="round"/>
<text x="562.69" y="324.37" font-size="28.6">4</text>
<line x1="609.00" y1="252.05" x2="593.40" y2="252.05" stroke="#000" stroke-width="2.8" stroke-linecap="round"/>
<text x="562.69" y="261.35" font-size="28.6">6</text>
<line x1="609.00" y1="189.03" x2="593.40" y2="189.03" stroke="#000" stroke-width="2.8" stroke-linecap="round"/>
<text x="562.69" y="198.33" font-size="28.6">8</text>
<line x1="609.00" y1="126.02" x2="593.40" y2="126.02" stroke="#000" stroke-width="2.8" stroke-linecap="round"/>
<path transform="translate(546.79,135.32) scale(28.600,-28.600)" d="M0.247,0 L0.341,0 L0.341,0.713 L0.272,0.713 C0.252,0.655 0.205,0.598 0.076,0.592 L0.076,0.512 L0.247,0.512 Z" fill="#000"/>
<text x="546.79" y="135.32" font-size="28.6"> 0</text>
<line x1="609.00" y1="63.00" x2="593.40" y2="63.00" stroke="#000" stroke-width="2.8" stroke-linecap="round"/>
<path transform="translate(546.79,72.30) scale(28.600,-28.600)" d="M0.247,0 L0.341,0 L0.341,0.713 L0.272,0.713 C0.252,0.655 0.205,0.598 0.076,0.592 L0.076,0.512 L0.247,0.512 Z" fill="#000"/>
<text x="546.79" y="72.30" font-size="28.6"> 2</text>
<line x1="607.50" y1="63.00" x2="988.30" y2="63.00" stroke="#000" stroke-width="3" />
<line x1="607.50" y1="441.10" x2="988.30" y2="441.10" stroke="#000" stroke-width="3" />
<line x1="609.00" y1="63.00" x2="609.00" y2="441.10" stroke="#000" stroke-width="3" />
<line x1="986.80" y1="63.00" x2="986.80" y2="441.10" stroke="#000" stroke-width="3" />
<path d="M609.00,440.83 L612.15,440.79 L615.30,440.75 L618.44,440.71 L621.59,440.66 L624.74,440.62 L627.89,440.57 L631.04,440.51 L634.19,440.43 L637.34,440.35 L640.48,440.25 L643.63,440.13 L646.78,440.00 L649.93,439.84 L653.08,439.66 L656.23,439.48 L659.37,439.32 L662.52,439.11 L665.67,438.84 L668.82,438.51 L671.97,438.02 L675.12,437.62 L678.26,437.00 L681.41,435.90 L684.56,434.74 L687.71,433.04 L690.86,431.49 L694.00,428.55 L697.15,425.36 L700.30,421.45 L703.45,418.14 L706.60,415.07 L709.75,412.17 L712.89,410.50 L716.04,409.53 L719.19,409.85 L722.34,410.28 L725.49,410.82 L728.64,411.36 L731.78,412.55 L734.93,414.01 L738.08,415.73 L741.23,416.45 L744.38,417.60 L747.53,419.04 L750.67,419.97 L753.82,420.96 L756.97,422.74 L760.12,424.79 L763.27,425.94 L766.42,426.57 L769.56,427.38 L772.71,428.23 L775.86,428.55 L779.01,429.00 L782.16,429.19 L785.31,429.67 L788.45,429.87 L791.60,429.94 L794.75,429.97 L797.90,429.89 L801.05,429.75 L804.20,429.58 L807.35,429.42 L810.49,429.36 L813.64,429.57 L816.79,429.90 L819.94,430.25 L823.09,430.40 L826.24,430.49 L829.38,430.51 L832.53,430.52 L835.68,430.58 L838.83,430.77 L841.98,430.98 L845.12,431.21 L848.27,431.46 L851.42,431.72 L854.57,431.98 L857.72,432.15 L860.87,432.27 L864.01,432.45 L867.16,432.71 L870.31,433.02 L873.46,433.35 L876.61,433.63 L879.76,433.87 L882.90,434.15 L886.05,434.53 L889.20,434.84 L892.35,435.00 L895.50,435.14 L898.65,435.43 L901.80,435.83 L904.94,436.07 L908.09,436.21 L911.24,436.39 L914.39,436.75 L917.54,437.11 L920.68,437.35 L923.83,437.56 L926.98,437.77 L930.13,437.96 L933.28,438.12 L936.43,438.25 L939.58,438.37 L942.72,438.55 L945.87,438.83 L949.02,439.05 L952.17,439.21 L955.32,439.32 L958.46,439.41 L961.61,439.53 L964.76,439.70 L967.91,439.83 L971.06,439.94 L974.21,440.02 L977.36,440.10 L980.50,440.18 L983.65,440.26 L986.80,440.29" fill="none" stroke="#000" stroke-width="2.8" stroke-linejoin="round"/>
<rect x="604.05" y="435.88" width="9.9" height="9.9" rx="1" fill="#000"/>
<rect x="607.20" y="435.84" width="9.9" height="9.9" rx="1" fill="#000"/>
<rect x="610.35" y="435.80" width="9.9" height="9.9" rx="1" fill="#000"/>
<rect x="613.49" y="435.76" width="9.9" height="9.9" rx="1" fill="#000"/>
<rect x="616.64" y="435.71" width="9.9" height="9.9" rx="1" fill="#000"/>
<rect x="619.79" y="435.67" width="9.9" height="9.9" rx="1" fill="#000"/>
<rect x="622.94" y="435.62" width="9.9" height="9.9" rx="1" fill="#000"/>
<rect x="626.09" y="435.56" width="9.9" height="9.9" rx="1" fill="#000"/>
<rect x="629.24" y="435.48" width="9.9" height="9.9" rx="1" fill="#000"/>
<rect x="632.38" y="435.40" width="9.9" height="9.9" rx="1" fill="#000"/>
<rect x="635.53" y="435.30" width="9.9" height="9.9" rx="1" fill="#000"/>
<rect x="638.68" y="435.18" width="9.9" height="9.9" rx="1" fill="#000"/>
<rect x="641.83" y="435.05" width="9.9" height="9.9" rx="1" fill="#000"/>
<rect x="644.98" y="434.89" width="9.9" height="9.9" rx="1" fill="#000"/>
<rect x="648.13" y="434.71" width="9.9" height="9.9" rx="1" fill="#000"/>
<rect x="651.27" y="434.53" width="9.9" height="9.9" rx="1" fill="#000"/>
<rect x="654.42" y="434.37" width="9.9" height="9.9" rx="1" fill="#000"/>
<rect x="657.57" y="434.16" width="9.9" height="9.9" rx="1" fill="#000"/>
<rect x="660.72" y="433.89" width="9.9" height="9.9" rx="1" fill="#000"/>
<rect x="663.87" y="433.56" width="9.9" height="9.9" rx="1" fill="#000"/>
<rect x="667.02" y="433.07" width="9.9" height="9.9" rx="1" fill="#000"/>
<rect x="670.16" y="432.67" width="9.9" height="9.9" rx="1" fill="#000"/>
<rect x="673.31" y="432.05" width="9.9" height="9.9" rx="1" fill="#000"/>
<rect x="676.46" y="430.95" width="9.9" height="9.9" rx="1" fill="#000"/>
<rect x="679.61" y="429.79" width="9.9" height="9.9" rx="1" fill="#000"/>
<rect x="682.76" y="428.09" width="9.9" height="9.9" rx="1" fill="#000"/>
<rect x="685.91" y="426.54" width="9.9" height="9.9" rx="1" fill="#000"/>
<rect x="689.05" y="423.60" width="9.9" height="9.9" rx="1" fill="#000"/>
<rect x="692.20" y="420.41" width="9.9" height="9.9" rx="1" fill="#000"/>
<rect x="695.35" y="416.50" width="9.9" height="9.9" rx="1" fill="#000"/>
<rect x="698.50" y="413.19" width="9.9" height="9.9" rx="1" fill="#000"/>
<rect x="701.65" y="410.12" width="9.9" height="9.9" rx="1" fill="#000"/>
<rect x="704.80" y="407.22" width="9.9" height="9.9" rx="1" fill="#000"/>
<rect x="707.94" y="405.55" width="9.9" height="9.9" rx="1" fill="#000"/>
<rect x="711.09" y="404.58" width="9.9" height="9.9" rx="1" fill="#000"/>
<rect x="714.24" y="404.90" width="9.9" height="9.9" rx="1" fill="#000"/>
<rect x="717.39" y="405.33" width="9.9" height="9.9" rx="1" fill="#000"/>
<rect x="720.54" y="405.87" width="9.9" height="9.9" rx="1" fill="#000"/>
<rect x="723.69" y="406.41" width="9.9" height="9.9" rx="1" fill="#000"/>
<rect x="726.83" y="407.60" width="9.9" height="9.9" rx="1" fill="#000"/>
<rect x="729.98" y="409.06" width="9.9" height="9.9" rx="1" fill="#000"/>
<rect x="733.13" y="410.78" width="9.9" height="9.9" rx="1" fill="#000"/>
<rect x="736.28" y="411.50" width="9.9" height="9.9" rx="1" fill="#000"/>
<rect x="739.43" y="412.65" width="9.9" height="9.9" rx="1" fill="#000"/>
<rect x="742.58" y="414.09" width="9.9" height="9.9" rx="1" fill="#000"/>
<rect x="745.72" y="415.02" width="9.9" height="9.9" rx="1" fill="#000"/>
<rect x="748.87" y="416.01" width="9.9" height="9.9" rx="1" fill="#000"/>
<rect x="752.02" y="417.79" width="9.9" height="9.9" rx="1" fill="#000"/>
<rect x="755.17" y="419.84" width="9.9" height="9.9" rx="1" fill="#000"/>
<rect x="758.32" y="420.99" width="9.9" height="9.9" rx="1" fill="#000"/>
<rect x="761.47" y="421.62" width="9.9" height="9.9" rx="1" fill="#000"/>
<rect x="764.61" y="422.43" width="9.9" height="9.9" rx="1" fill="#000"/>
<rect x="767.76" y="423.28" width="9.9" height="9.9" rx="1" fill="#000"/>
<rect x="770.91" y="423.60" width="9.9" height="9.9" rx="1" fill="#000"/>
<rect x="774.06" y="424.05" width="9.9" height="9.9" rx="1" fill="#000"/>
<rect x="777.21" y="424.24" width="9.9" height="9.9" rx="1" fill="#000"/>
<rect x="780.36" y="424.72" width="9.9" height="9.9" rx="1" fill="#000"/>
<rect x="783.50" y="424.92" width="9.9" height="9.9" rx="1" fill="#000"/>
<rect x="786.65" y="424.99" width="9.9" height="9.9" rx="1" fill="#000"/>
<rect x="789.80" y="425.02" width="9.9" height="9.9" rx="1" fill="#000"/>
<rect x="792.95" y="424.94" width="9.9" height="9.9" rx="1" fill="#000"/>
<rect x="796.10" y="424.80" width="9.9" height="9.9" rx="1" fill="#000"/>
<rect x="799.25" y="424.63" width="9.9" height="9.9" rx="1" fill="#000"/>
<rect x="802.39" y="424.47" width="9.9" height="9.9" rx="1" fill="#000"/>
<rect x="805.54" y="424.41" width="9.9" height="9.9" rx="1" fill="#000"/>
<rect x="808.69" y="424.62" width="9.9" height="9.9" rx="1" fill="#000"/>
<rect x="811.84" y="424.95" width="9.9" height="9.9" rx="1" fill="#000"/>
<rect x="814.99" y="425.30" width="9.9" height="9.9" rx="1" fill="#000"/>
<rect x="818.14" y="425.45" width="9.9" height="9.9" rx="1" fill="#000"/>
<rect x="821.28" y="425.54" width="9.9" height="9.9" rx="1" fill="#000"/>
<rect x="824.43" y="425.56" width="9.9" height="9.9" rx="1" fill="#000"/>
<rect x="827.58" y="425.57" width="9.9" height="9.9" rx="1" fill="#000"/>
<rect x="830.73" y="425.63" width="9.9" height="9.9" rx="1" fill="#000"/>
<rect x="833.88" y="425.82" width="9.9" height="9.9" rx="1" fill="#000"/>
<rect x="837.03" y="426.03" width="9.9" height="9.9" rx="1" fill="#000"/>
<rect x="840.17" y="426.26" width="9.9" height="9.9" rx="1" fill="#000"/>
<rect x="843.32" y="426.51" width="9.9" height="9.9" rx="1" fill="#000"/>
<rect x="846.47" y="426.77" width="9.9" height="9.9" rx="1" fill="#000"/>
<rect x="849.62" y="427.03" width="9.9" height="9.9" rx="1" fill="#000"/>
<rect x="852.77" y="427.20" width="9.9" height="9.9" rx="1" fill="#000"/>
<rect x="855.92" y="427.32" width="9.9" height="9.9" rx="1" fill="#000"/>
<rect x="859.06" y="427.50" width="9.9" height="9.9" rx="1" fill="#000"/>
<rect x="862.21" y="427.76" width="9.9" height="9.9" rx="1" fill="#000"/>
<rect x="865.36" y="428.07" width="9.9" height="9.9" rx="1" fill="#000"/>
<rect x="868.51" y="428.40" width="9.9" height="9.9" rx="1" fill="#000"/>
<rect x="871.66" y="428.68" width="9.9" height="9.9" rx="1" fill="#000"/>
<rect x="874.81" y="428.92" width="9.9" height="9.9" rx="1" fill="#000"/>
<rect x="877.95" y="429.20" width="9.9" height="9.9" rx="1" fill="#000"/>
<rect x="881.10" y="429.58" width="9.9" height="9.9" rx="1" fill="#000"/>
<rect x="884.25" y="429.89" width="9.9" height="9.9" rx="1" fill="#000"/>
<rect x="887.40" y="430.05" width="9.9" height="9.9" rx="1" fill="#000"/>
<rect x="890.55" y="430.19" width="9.9" height="9.9" rx="1" fill="#000"/>
<rect x="893.70" y="430.48" width="9.9" height="9.9" rx="1" fill="#000"/>
<rect x="896.85" y="430.88" width="9.9" height="9.9" rx="1" fill="#000"/>
<rect x="899.99" y="431.12" width="9.9" height="9.9" rx="1" fill="#000"/>
<rect x="903.14" y="431.26" width="9.9" height="9.9" rx="1" fill="#000"/>
<rect x="906.29" y="431.44" width="9.9" height="9.9" rx="1" fill="#000"/>
<rect x="909.44" y="431.80" width="9.9" height="9.9" rx="1" fill="#000"/>
<rect x="912.59" y="432.16" width="9.9" height="9.9" rx="1" fill="#000"/>
<rect x="915.73" y="432.40" width="9.9" height="9.9" rx="1" fill="#000"/>
<rect x="918.88" y="432.61" width="9.9" height="9.9" rx="1" fill="#000"/>
<rect x="922.03" y="432.82" width="9.9" height="9.9" rx="1" fill="#000"/>
<rect x="925.18" y="433.01" width="9.9" height="9.9" rx="1" fill="#000"/>
<rect x="928.33" y="433.17" width="9.9" height="9.9" rx="1" fill="#000"/>
<rect x="931.48" y="433.30" width="9.9" height="9.9" rx="1" fill="#000"/>
<rect x="934.62" y="433.42" width="9.9" height="9.9" rx="1" fill="#000"/>
<rect x="937.77" y="433.60" width="9.9" height="9.9" rx="1" fill="#000"/>
<rect x="940.92" y="433.88" width="9.9" height="9.9" rx="1" fill="#000"/>
<rect x="944.07" y="434.10" width="9.9" height="9.9" rx="1" fill="#000"/>
<rect x="947.22" y="434.26" width="9.9" height="9.9" rx="1" fill="#000"/>
<rect x="950.37" y="434.37" width="9.9" height="9.9" rx="1" fill="#000"/>
<rect x="953.51" y="434.46" width="9.9" height="9.9" rx="1" fill="#000"/>
<rect x="956.66" y="434.58" width="9.9" height="9.9" rx="1" fill="#000"/>
<rect x="959.81" y="434.75" width="9.9" height="9.9" rx="1" fill="#000"/>
<rect x="962.96" y="434.88" width="9.9" height="9.9" rx="1" fill="#000"/>
<rect x="966.11" y="434.99" width="9.9" height="9.9" rx="1" fill="#000"/>
<rect x="969.26" y="435.07" width="9.9" height="9.9" rx="1" fill="#000"/>
<rect x="972.40" y="435.15" width="9.9" height="9.9" rx="1" fill="#000"/>
<rect x="975.55" y="435.23" width="9.9" height="9.9" rx="1" fill="#000"/>
<rect x="978.70" y="435.31" width="9.9" height="9.9" rx="1" fill="#000"/>
<rect x="981.85" y="435.34" width="9.9" height="9.9" rx="1" fill="#000"/>
<path d="M609.00,439.90 L612.15,439.69 L615.30,439.49 L618.44,439.28 L621.59,439.09 L624.74,438.89 L627.89,438.62 L631.04,438.23 L634.19,437.70 L637.34,437.03 L640.48,436.06 L643.63,434.76 L646.78,432.97 L649.93,430.94 L653.08,428.30 L656.23,422.80 L659.37,413.50 L662.52,399.40 L665.67,381.30 L668.82,357.90 L671.97,326.00 L675.12,282.00 L678.26,230.80 L681.41,176.80 L684.56,136.20 L687.71,113.90 L690.86,103.50 L694.00,108.90 L697.15,125.80 L700.30,157.10 L703.45,192.50 L706.60,222.30 L709.75,242.50 L712.89,256.30 L716.04,270.80 L719.19,288.60 L722.34,311.30 L725.49,328.30 L728.64,343.70 L731.78,356.60 L734.93,370.40 L738.08,381.70 L741.23,387.58 L744.38,392.98 L747.53,397.61 L750.67,401.21 L753.82,403.95 L756.97,405.80 L760.12,407.17 L763.27,408.25 L766.42,409.00 L769.56,409.46 L772.71,409.70 L775.86,409.75 L779.01,409.80 L782.16,410.24 L785.31,410.90 L788.45,411.49 L791.60,411.90 L794.75,412.06 L797.90,412.10 L801.05,412.10 L804.20,412.10 L807.35,411.79 L810.49,411.41 L813.64,411.40 L816.79,411.40 L819.94,411.53 L823.09,412.23 L826.24,413.09 L829.38,414.16 L832.53,415.39 L835.68,416.84 L838.83,418.31 L841.98,419.52 L845.12,420.61 L848.27,421.62 L851.42,422.55 L854.57,423.40 L857.72,424.15 L860.87,424.91 L864.01,425.79 L867.16,426.78 L870.31,427.57 L873.46,428.20 L876.61,428.80 L879.76,429.38 L882.90,430.03 L886.05,430.97 L889.20,432.03 L892.35,432.77 L895.50,433.36 L898.65,433.98 L901.80,434.67 L904.94,435.18 L908.09,435.49 L911.24,435.79 L914.39,436.22 L917.54,436.69 L920.68,437.07 L923.83,437.41 L926.98,437.74 L930.13,438.07 L933.28,438.37 L936.43,438.61 L939.58,438.84 L942.72,439.05 L945.87,439.22 L949.02,439.37 L952.17,439.48 L955.32,439.57 L958.46,439.65 L961.61,439.72 L964.76,439.80 L967.91,439.88 L971.06,439.95 L974.21,440.03 L977.36,440.12 L980.50,440.24 L983.65,440.40 L986.80,440.60" fill="none" stroke="#ff0000" stroke-width="2.9" stroke-linejoin="round"/>
<rect x="604.05" y="434.95" width="9.9" height="9.9" rx="1" fill="#ff0000"/>
<rect x="607.20" y="434.74" width="9.9" height="9.9" rx="1" fill="#ff0000"/>
<rect x="610.35" y="434.54" width="9.9" height="9.9" rx="1" fill="#ff0000"/>
<rect x="613.49" y="434.33" width="9.9" height="9.9" rx="1" fill="#ff0000"/>
<rect x="616.64" y="434.14" width="9.9" height="9.9" rx="1" fill="#ff0000"/>
<rect x="619.79" y="433.94" width="9.9" height="9.9" rx="1" fill="#ff0000"/>
<rect x="622.94" y="433.67" width="9.9" height="9.9" rx="1" fill="#ff0000"/>
<rect x="626.09" y="433.28" width="9.9" height="9.9" rx="1" fill="#ff0000"/>
<rect x="629.24" y="432.75" width="9.9" height="9.9" rx="1" fill="#ff0000"/>
<rect x="632.38" y="432.08" width="9.9" height="9.9" rx="1" fill="#ff0000"/>
<rect x="635.53" y="431.11" width="9.9" height="9.9" rx="1" fill="#ff0000"/>
<rect x="638.68" y="429.81" width="9.9" height="9.9" rx="1" fill="#ff0000"/>
<rect x="641.83" y="428.02" width="9.9" height="9.9" rx="1" fill="#ff0000"/>
<rect x="644.98" y="425.99" width="9.9" height="9.9" rx="1" fill="#ff0000"/>
<rect x="648.13" y="423.35" width="9.9" height="9.9" rx="1" fill="#ff0000"/>
<rect x="651.27" y="417.85" width="9.9" height="9.9" rx="1" fill="#ff0000"/>
<rect x="654.42" y="408.55" width="9.9" height="9.9" rx="1" fill="#ff0000"/>
<rect x="657.57" y="394.45" width="9.9" height="9.9" rx="1" fill="#ff0000"/>
<rect x="660.72" y="376.35" width="9.9" height="9.9" rx="1" fill="#ff0000"/>
<rect x="663.87" y="352.95" width="9.9" height="9.9" rx="1" fill="#ff0000"/>
<rect x="667.02" y="321.05" width="9.9" height="9.9" rx="1" fill="#ff0000"/>
<rect x="670.16" y="277.05" width="9.9" height="9.9" rx="1" fill="#ff0000"/>
<rect x="673.31" y="225.85" width="9.9" height="9.9" rx="1" fill="#ff0000"/>
<rect x="676.46" y="171.85" width="9.9" height="9.9" rx="1" fill="#ff0000"/>
<rect x="679.61" y="131.25" width="9.9" height="9.9" rx="1" fill="#ff0000"/>
<rect x="682.76" y="108.95" width="9.9" height="9.9" rx="1" fill="#ff0000"/>
<rect x="685.91" y="98.55" width="9.9" height="9.9" rx="1" fill="#ff0000"/>
<rect x="689.05" y="103.95" width="9.9" height="9.9" rx="1" fill="#ff0000"/>
<rect x="692.20" y="120.85" width="9.9" height="9.9" rx="1" fill="#ff0000"/>
<rect x="695.35" y="152.15" width="9.9" height="9.9" rx="1" fill="#ff0000"/>
<rect x="698.50" y="187.55" width="9.9" height="9.9" rx="1" fill="#ff0000"/>
<rect x="701.65" y="217.35" width="9.9" height="9.9" rx="1" fill="#ff0000"/>
<rect x="704.80" y="237.55" width="9.9" height="9.9" rx="1" fill="#ff0000"/>
<rect x="707.94" y="251.35" width="9.9" height="9.9" rx="1" fill="#ff0000"/>
<rect x="711.09" y="265.85" width="9.9" height="9.9" rx="1" fill="#ff0000"/>
<rect x="714.24" y="283.65" width="9.9" height="9.9" rx="1" fill="#ff0000"/>
<rect x="717.39" y="306.35" width="9.9" height="9.9" rx="1" fill="#ff0000"/>
<rect x="720.54" y="323.35" width="9.9" height="9.9" rx="1" fill="#ff0000"/>
<rect x="723.69" y="338.75" width="9.9" height="9.9" rx="1" fill="#ff0000"/>
<rect x="726.83" y="351.65" width="9.9" height="9.9" rx="1" fill="#ff0000"/>
<rect x="729.98" y="365.45" width="9.9" height="9.9" rx="1" fill="#ff0000"/>
<rect x="733.13" y="376.75" width="9.9" height="9.9" rx="1" fill="#ff0000"/>
<rect x="736.28" y="382.63" width="9.9" height="9.9" rx="1" fill="#ff0000"/>
<rect x="739.43" y="388.03" width="9.9" height="9.9" rx="1" fill="#ff0000"/>
<rect x="742.58" y="392.66" width="9.9" height="9.9" rx="1" fill="#ff0000"/>
<rect x="745.72" y="396.26" width="9.9" height="9.9" rx="1" fill="#ff0000"/>
<rect x="748.87" y="399.00" width="9.9" height="9.9" rx="1" fill="#ff0000"/>
<rect x="752.02" y="400.85" width="9.9" height="9.9" rx="1" fill="#ff0000"/>
<rect x="755.17" y="402.22" width="9.9" height="9.9" rx="1" fill="#ff0000"/>
<rect x="758.32" y="403.30" width="9.9" height="9.9" rx="1" fill="#ff0000"/>
<rect x="761.47" y="404.05" width="9.9" height="9.9" rx="1" fill="#ff0000"/>
<rect x="764.61" y="404.51" width="9.9" height="9.9" rx="1" fill="#ff0000"/>
<rect x="767.76" y="404.75" width="9.9" height="9.9" rx="1" fill="#ff0000"/>
<rect x="770.91" y="404.80" width="9.9" height="9.9" rx="1" fill="#ff0000"/>
<rect x="774.06" y="404.85" width="9.9" height="9.9" rx="1" fill="#ff0000"/>
<rect x="777.21" y="405.29" width="9.9" height="9.9" rx="1" fill="#ff0000"/>
<rect x="780.36" y="405.95" width="9.9" height="9.9" rx="1" fill="#ff0000"/>
<rect x="783.50" y="406.54" width="9.9" height="9.9" rx="1" fill="#ff0000"/>
<rect x="786.65" y="406.95" width="9.9" height="9.9" rx="1" fill="#ff0000"/>
<rect x="789.80" y="407.11" width="9.9" height="9.9" rx="1" fill="#ff0000"/>
<rect x="792.95" y="407.15" width="9.9" height="9.9" rx="1" fill="#ff0000"/>
<rect x="796.10" y="407.15" width="9.9" height="9.9" rx="1" fill="#ff0000"/>
<rect x="799.25" y="407.15" width="9.9" height="9.9" rx="1" fill="#ff0000"/>
<rect x="802.39" y="406.84" width="9.9" height="9.9" rx="1" fill="#ff0000"/>
<rect x="805.54" y="406.46" width="9.9" height="9.9" rx="1" fill="#ff0000"/>
<rect x="808.69" y="406.45" width="9.9" height="9.9" rx="1" fill="#ff0000"/>
<rect x="811.84" y="406.45" width="9.9" height="9.9" rx="1" fill="#ff0000"/>
<rect x="814.99" y="406.58" width="9.9" height="9.9" rx="1" fill="#ff0000"/>
<rect x="818.14" y="407.28" width="9.9" height="9.9" rx="1" fill="#ff0000"/>
<rect x="821.28" y="408.14" width="9.9" height="9.9" rx="1" fill="#ff0000"/>
<rect x="824.43" y="409.21" width="9.9" height="9.9" rx="1" fill="#ff0000"/>
<rect x="827.58" y="410.44" width="9.9" height="9.9" rx="1" fill="#ff0000"/>
<rect x="830.73" y="411.89" width="9.9" height="9.9" rx="1" fill="#ff0000"/>
<rect x="833.88" y="413.36" width="9.9" height="9.9" rx="1" fill="#ff0000"/>
<rect x="837.03" y="414.57" width="9.9" height="9.9" rx="1" fill="#ff0000"/>
<rect x="840.17" y="415.66" width="9.9" height="9.9" rx="1" fill="#ff0000"/>
<rect x="843.32" y="416.67" width="9.9" height="9.9" rx="1" fill="#ff0000"/>
<rect x="846.47" y="417.60" width="9.9" height="9.9" rx="1" fill="#ff0000"/>
<rect x="849.62" y="418.45" width="9.9" height="9.9" rx="1" fill="#ff0000"/>
<rect x="852.77" y="419.20" width="9.9" height="9.9" rx="1" fill="#ff0000"/>
<rect x="855.92" y="419.96" width="9.9" height="9.9" rx="1" fill="#ff0000"/>
<rect x="859.06" y="420.84" width="9.9" height="9.9" rx="1" fill="#ff0000"/>
<rect x="862.21" y="421.83" width="9.9" height="9.9" rx="1" fill="#ff0000"/>
<rect x="865.36" y="422.62" width="9.9" height="9.9" rx="1" fill="#ff0000"/>
<rect x="868.51" y="423.25" width="9.9" height="9.9" rx="1" fill="#ff0000"/>
<rect x="871.66" y="423.85" width="9.9" height="9.9" rx="1" fill="#ff0000"/>
<rect x="874.81" y="424.43" width="9.9" height="9.9" rx="1" fill="#ff0000"/>
<rect x="877.95" y="425.08" width="9.9" height="9.9" rx="1" fill="#ff0000"/>
<rect x="881.10" y="426.02" width="9.9" height="9.9" rx="1" fill="#ff0000"/>
<rect x="884.25" y="427.08" width="9.9" height="9.9" rx="1" fill="#ff0000"/>
<rect x="887.40" y="427.82" width="9.9" height="9.9" rx="1" fill="#ff0000"/>
<rect x="890.55" y="428.41" width="9.9" height="9.9" rx="1" fill="#ff0000"/>
<rect x="893.70" y="429.03" width="9.9" height="9.9" rx="1" fill="#ff0000"/>
<rect x="896.85" y="429.72" width="9.9" height="9.9" rx="1" fill="#ff0000"/>
<rect x="899.99" y="430.23" width="9.9" height="9.9" rx="1" fill="#ff0000"/>
<rect x="903.14" y="430.54" width="9.9" height="9.9" rx="1" fill="#ff0000"/>
<rect x="906.29" y="430.84" width="9.9" height="9.9" rx="1" fill="#ff0000"/>
<rect x="909.44" y="431.27" width="9.9" height="9.9" rx="1" fill="#ff0000"/>
<rect x="912.59" y="431.74" width="9.9" height="9.9" rx="1" fill="#ff0000"/>
<rect x="915.73" y="432.12" width="9.9" height="9.9" rx="1" fill="#ff0000"/>
<rect x="918.88" y="432.46" width="9.9" height="9.9" rx="1" fill="#ff0000"/>
<rect x="922.03" y="432.79" width="9.9" height="9.9" rx="1" fill="#ff0000"/>
<rect x="925.18" y="433.12" width="9.9" height="9.9" rx="1" fill="#ff0000"/>
<rect x="928.33" y="433.42" width="9.9" height="9.9" rx="1" fill="#ff0000"/>
<rect x="931.48" y="433.66" width="9.9" height="9.9" rx="1" fill="#ff0000"/>
<rect x="934.62" y="433.89" width="9.9" height="9.9" rx="1" fill="#ff0000"/>
<rect x="937.77" y="434.10" width="9.9" height="9.9" rx="1" fill="#ff0000"/>
<rect x="940.92" y="434.27" width="9.9" height="9.9" rx="1" fill="#ff0000"/>
<rect x="944.07" y="434.42" width="9.9" height="9.9" rx="1" fill="#ff0000"/>
<rect x="947.22" y="434.53" width="9.9" height="9.9" rx="1" fill="#ff0000"/>
<rect x="950.37" y="434.62" width="9.9" height="9.9" rx="1" fill="#ff0000"/>
<rect x="953.51" y="434.70" width="9.9" height="9.9" rx="1" fill="#ff0000"/>
<rect x="956.66" y="434.77" width="9.9" height="9.9" rx="1" fill="#ff0000"/>
<rect x="959.81" y="434.85" width="9.9" height="9.9" rx="1" fill="#ff0000"/>
<rect x="962.96" y="434.93" width="9.9" height="9.9" rx="1" fill="#ff0000"/>
<rect x="966.11" y="435.00" width="9.9" height="9.9" rx="1" fill="#ff0000"/>
<rect x="969.26" y="435.08" width="9.9" height="9.9" rx="1" fill="#ff0000"/>
<rect x="972.40" y="435.17" width="9.9" height="9.9" rx="1" fill="#ff0000"/>
<rect x="975.55" y="435.29" width="9.9" height="9.9" rx="1" fill="#ff0000"/>
<rect x="978.70" y="435.45" width="9.9" height="9.9" rx="1" fill="#ff0000"/>
<rect x="981.85" y="435.65" width="9.9" height="9.9" rx="1" fill="#ff0000"/>
<text x="798.40" y="539.00" font-size="29.4" text-anchor="middle" >Frequency, GHz</text>
<text x="549.5" y="30.6" font-size="40" font-weight="bold">b</text>
<line x1="305.80" y1="140.90" x2="252.40" y2="164.30" stroke="#000" stroke-width="2.3" stroke-linecap="round"/>
<line x1="252.40" y1="164.30" x2="263.60" y2="153.60" stroke="#000" stroke-width="2.3" stroke-linecap="round"/>
<line x1="252.40" y1="164.30" x2="269.20" y2="165.10" stroke="#000" stroke-width="2.3" stroke-linecap="round"/>
<line x1="293.20" y1="395.70" x2="330.90" y2="365.60" stroke="#000" stroke-width="2.3" stroke-linecap="round"/>
<line x1="330.90" y1="365.60" x2="306.80" y2="375.40" stroke="#000" stroke-width="2.3" stroke-linecap="round"/>
<line x1="330.90" y1="365.60" x2="315.80" y2="385.90" stroke="#000" stroke-width="2.3" stroke-linecap="round"/>
<line x1="788.40" y1="220.70" x2="722.40" y2="270.40" stroke="#000" stroke-width="2.3" stroke-linecap="round"/>
<line x1="722.40" y1="270.40" x2="738.30" y2="250.70" stroke="#000" stroke-width="2.3" stroke-linecap="round"/>
<line x1="722.40" y1="270.40" x2="746.30" y2="261.40" stroke="#000" stroke-width="2.3" stroke-linecap="round"/>
<line x1="792.70" y1="351.00" x2="726.90" y2="400.80" stroke="#000" stroke-width="2.3" stroke-linecap="round"/>
<line x1="726.90" y1="400.80" x2="742.40" y2="381.50" stroke="#000" stroke-width="2.3" stroke-linecap="round"/>
<line x1="726.90" y1="400.80" x2="750.70" y2="391.70" stroke="#000" stroke-width="2.3" stroke-linecap="round"/>
<text x="317.24" y="145.80" font-size="29.3" font-style="italic">I</text>
<rect x="329.30" y="134.60" width="14.50" height="2.00" fill="#000"/>
<rect x="329.30" y="140.50" width="14.50" height="2.00" fill="#000"/>
<text x="348.05" y="146.00" font-size="29.3">0</text>
<text x="230.24" y="425.20" font-size="29.3" font-style="italic">I</text>
<rect x="242.10" y="414.00" width="14.80" height="2.00" fill="#000"/>
<rect x="242.10" y="419.90" width="14.80" height="2.00" fill="#000"/>
<rect x="261.10" y="416.00" width="15.80" height="2.00" fill="#000"/>
<text x="276.73" y="425.40" font-size="29.3">20 mA</text>
<text x="768.44" y="205.70" font-size="29.3" font-style="italic">I</text>
<rect x="780.30" y="194.50" width="14.70" height="2.00" fill="#000"/>
<rect x="780.30" y="200.40" width="14.70" height="2.00" fill="#000"/>
<text x="798.63" y="205.80" font-size="29.3">20 mA</text>
<text x="794.54" y="334.90" font-size="29.3" font-style="italic">I</text>
<rect x="806.60" y="324.00" width="14.50" height="2.00" fill="#000"/>
<rect x="806.60" y="329.90" width="14.50" height="2.00" fill="#000"/>
<text x="825.05" y="335.30" font-size="29.3">0</text>
<line x1="272.80" y1="701.4" x2="777.00" y2="856.4" stroke="#0808e6" stroke-width="3" stroke-dasharray="29.8 13.8" stroke-linecap="round"/>
<path d="M295.70,961.32 L297.62,961.16 L299.53,961.01 L301.45,960.86 L303.36,960.72 L305.28,960.59 L307.20,960.45 L309.11,960.32 L311.03,960.20 L312.94,960.08 L314.86,959.97 L316.77,959.86 L318.69,959.75 L320.61,959.65 L322.52,959.55 L324.44,959.46 L326.35,959.36 L328.27,959.28 L330.19,959.19 L332.10,959.11 L334.02,959.03 L335.93,958.96 L337.85,958.88 L339.77,958.81 L341.68,958.75 L343.60,958.68 L345.51,958.62 L347.43,958.56 L349.35,958.50 L351.26,958.45 L353.18,958.39 L355.09,958.34 L357.01,958.29 L358.92,958.24 L360.84,958.19 L362.76,958.15 L364.67,958.10 L366.59,958.06 L368.50,958.02 L370.42,957.97 L372.34,957.93 L374.25,957.89 L376.17,957.85 L378.08,957.81 L380.00,957.77 L381.92,957.73 L383.83,957.69 L385.75,957.66 L387.66,957.62 L389.58,957.58 L391.49,957.54 L393.41,957.49 L395.33,957.45 L397.24,957.41 L399.16,957.37 L401.07,957.32 L402.99,957.28 L404.91,957.23 L406.82,957.18 L408.74,957.13 L410.65,957.08 L412.57,957.03 L414.49,956.97 L416.40,956.91 L418.32,956.86 L420.23,956.79 L422.15,956.73 L424.07,956.66 L425.98,956.60 L427.90,956.52 L429.81,956.45 L431.73,956.37 L433.64,956.29 L435.56,956.21 L437.48,956.12 L439.39,956.03 L441.31,955.94 L443.22,955.84 L445.14,955.74 L447.06,955.63 L448.97,955.53 L450.89,955.41 L452.80,955.29 L454.72,955.17 L456.64,955.05 L458.55,954.92 L460.47,954.78 L462.38,954.64 L464.30,954.50 L466.22,954.35 L468.13,954.19 L470.05,954.03 L471.96,953.86 L473.88,953.69 L475.79,953.51 L477.71,953.33 L479.63,953.14 L481.54,952.95 L483.46,952.75 L485.37,952.54 L487.29,952.32 L489.21,952.10 L491.12,951.88 L493.04,951.64 L494.95,951.40 L496.87,951.16 L498.79,950.90 L500.70,950.64 L502.62,950.37 L504.53,950.09 L506.45,949.81 L508.36,949.52 L510.28,949.22 L512.20,948.91 L514.11,948.60 L516.03,948.27 L517.94,947.94 L519.86,947.60 L521.78,947.25 L523.69,946.90 L525.61,946.53 L527.52,946.16 L529.44,945.77 L531.36,945.38 L533.27,944.98 L535.19,944.57 L537.10,944.14 L539.02,943.71 L540.94,943.27 L542.85,942.82 L544.77,942.35 L546.68,941.87 L548.60,941.37 L550.51,940.86 L552.43,940.33 L554.35,939.79 L556.26,939.23 L558.18,938.65 L560.09,938.05 L562.01,937.43 L563.93,936.79 L565.84,936.13 L567.76,935.45 L569.67,934.74 L571.59,934.01 L573.51,933.26 L575.42,932.47 L577.34,931.67 L579.25,930.83 L581.17,929.97 L583.08,929.08 L585.00,928.16 L586.92,927.20 L588.83,926.22 L590.75,925.21 L592.66,924.16 L594.58,923.08 L596.50,921.96 L598.41,920.81 L600.33,919.62 L602.24,918.40 L604.16,917.14 L606.08,915.84 L607.99,914.50 L609.91,913.12 L611.82,911.70 L613.74,910.24 L615.66,908.73 L617.57,907.18 L619.49,905.59 L621.40,903.96 L623.32,902.28 L625.23,900.55 L627.15,898.77 L629.07,896.95 L630.98,895.08 L632.90,893.15 L634.81,891.19 L636.73,889.17 L638.65,887.11 L640.56,885.00 L642.48,882.85 L644.39,880.65 L646.31,878.41 L648.23,876.13 L650.14,873.80 L652.06,871.44 L653.97,869.03 L655.89,866.59 L657.81,864.10 L659.72,861.58 L661.64,859.02 L663.55,856.43 L665.47,853.79 L667.38,851.13 L669.30,848.43 L671.22,845.69 L673.13,842.91 L675.05,840.08 L676.96,837.20 L678.88,834.27 L680.80,831.27 L682.71,828.21 L684.63,825.08 L686.54,821.88 L688.46,818.59 L690.38,815.23 L692.29,811.77 L694.21,808.22 L696.12,804.59 L698.04,800.86 L699.95,797.04 L701.87,793.14 L703.79,789.15 L705.70,785.08 L707.62,780.93 L709.53,776.70 L711.45,772.40 L713.37,768.01 L715.28,763.56 L717.20,759.03 L719.11,754.43 L721.03,749.76 L722.95,745.02 L724.86,740.22 L726.78,735.36 L728.69,730.43 L730.61,725.45 L732.53,720.40 L734.44,715.30 L736.36,710.15 L738.27,704.94 L740.19,699.68 L742.10,694.37 L744.02,689.01 L745.94,683.61 L747.85,678.16 L749.77,672.67 L751.68,667.14 L753.60,661.57" fill="none" stroke="#000" stroke-width="3.0" stroke-linejoin="round"/>
<rect x="285.12" y="950.00" width="21.2" height="20.8" rx="1.6" fill="#000"/>
<rect x="342.41" y="949.37" width="21.2" height="20.8" rx="1.6" fill="#000"/>
<rect x="399.71" y="947.48" width="21.2" height="20.8" rx="1.6" fill="#000"/>
<rect x="457.00" y="943.89" width="21.2" height="20.8" rx="1.6" fill="#000"/>
<rect x="514.30" y="936.33" width="21.2" height="20.8" rx="1.6" fill="#000"/>
<rect x="571.60" y="919.43" width="21.2" height="20.8" rx="1.6" fill="#000"/>
<rect x="628.89" y="880.48" width="21.2" height="20.8" rx="1.6" fill="#000"/>
<rect x="686.19" y="788.64" width="21.2" height="20.8" rx="1.6" fill="#000"/>
<rect x="743.48" y="651.23" width="21.2" height="20.8" rx="1.6" fill="#000"/>
<rect x="286.52" y="736.46" width="18.4" height="18.0" fill="none" stroke="#0808e6" stroke-width="3" stroke-linejoin="round"/>
<rect x="343.81" y="736.46" width="18.4" height="18.0" fill="none" stroke="#0808e6" stroke-width="3" stroke-linejoin="round"/>
<rect x="401.11" y="736.46" width="18.4" height="18.0" fill="none" stroke="#0808e6" stroke-width="3" stroke-linejoin="round"/>
<rect x="458.40" y="755.37" width="18.4" height="18.0" fill="none" stroke="#0808e6" stroke-width="3" stroke-linejoin="round"/>
<rect x="515.70" y="774.28" width="18.4" height="18.0" fill="none" stroke="#0808e6" stroke-width="3" stroke-linejoin="round"/>
<rect x="573.00" y="792.81" width="18.4" height="18.0" fill="none" stroke="#0808e6" stroke-width="3" stroke-linejoin="round"/>
<rect x="630.29" y="811.72" width="18.4" height="18.0" fill="none" stroke="#0808e6" stroke-width="3" stroke-linejoin="round"/>
<rect x="687.59" y="868.07" width="18.4" height="18.0" fill="none" stroke="#0808e6" stroke-width="3" stroke-linejoin="round"/>
<rect x="716.23" y="886.98" width="18.4" height="18.0" fill="none" stroke="#0808e6" stroke-width="3" stroke-linejoin="round"/>
<rect x="744.88" y="925.56" width="18.4" height="18.0" fill="none" stroke="#0808e6" stroke-width="3" stroke-linejoin="round"/>
<line x1="376.00" y1="707.90" x2="469.60" y2="707.90" stroke="#0808e6" stroke-width="3.1" stroke-linecap="round"/>
<line x1="469.60" y1="707.90" x2="444.30" y2="701.20" stroke="#0808e6" stroke-width="3.7" stroke-linecap="round"/>
<line x1="469.60" y1="707.90" x2="444.30" y2="714.60" stroke="#0808e6" stroke-width="3.7" stroke-linecap="round"/>
<line x1="415.20" y1="915.70" x2="323.50" y2="915.70" stroke="#000" stroke-width="3.1" stroke-linecap="round"/>
<line x1="323.50" y1="915.70" x2="348.80" y2="909.30" stroke="#000" stroke-width="3.7" stroke-linecap="round"/>
<line x1="323.50" y1="915.70" x2="348.80" y2="922.10" stroke="#000" stroke-width="3.7" stroke-linecap="round"/>
<line x1="272.80" y1="632.00" x2="272.80" y2="622.80" stroke="#000" stroke-width="2.0" stroke-linecap="round"/>
<line x1="272.80" y1="1010.20" x2="272.80" y2="1019.40" stroke="#000" stroke-width="2.0" stroke-linecap="round"/>
<line x1="295.72" y1="632.00" x2="295.72" y2="616.50" stroke="#000" stroke-width="2.8" stroke-linecap="round"/>
<line x1="295.72" y1="1010.20" x2="295.72" y2="1025.70" stroke="#000" stroke-width="2.8" stroke-linecap="round"/>
<rect x="272.58" y="1052.90" width="16.10" height="2.00" fill="#000"/>
<text x="288.24" y="1062.10" font-size="28.6">20</text>
<line x1="318.64" y1="632.00" x2="318.64" y2="622.80" stroke="#000" stroke-width="2.0" stroke-linecap="round"/>
<line x1="318.64" y1="1010.20" x2="318.64" y2="1019.40" stroke="#000" stroke-width="2.0" stroke-linecap="round"/>
<line x1="341.55" y1="632.00" x2="341.55" y2="622.80" stroke="#000" stroke-width="2.0" stroke-linecap="round"/>
<line x1="341.55" y1="1010.20" x2="341.55" y2="1019.40" stroke="#000" stroke-width="2.0" stroke-linecap="round"/>
<line x1="364.47" y1="632.00" x2="364.47" y2="622.80" stroke="#000" stroke-width="2.0" stroke-linecap="round"/>
<line x1="364.47" y1="1010.20" x2="364.47" y2="1019.40" stroke="#000" stroke-width="2.0" stroke-linecap="round"/>
<line x1="387.39" y1="632.00" x2="387.39" y2="622.80" stroke="#000" stroke-width="2.0" stroke-linecap="round"/>
<line x1="387.39" y1="1010.20" x2="387.39" y2="1019.40" stroke="#000" stroke-width="2.0" stroke-linecap="round"/>
<line x1="410.31" y1="632.00" x2="410.31" y2="616.50" stroke="#000" stroke-width="2.8" stroke-linecap="round"/>
<line x1="410.31" y1="1010.20" x2="410.31" y2="1025.70" stroke="#000" stroke-width="2.8" stroke-linecap="round"/>
<rect x="387.17" y="1052.90" width="16.10" height="2.00" fill="#000"/>
<path transform="translate(402.83,1062.10) scale(28.600,-28.600)" d="M0.247,0 L0.341,0 L0.341,0.713 L0.272,0.713 C0.252,0.655 0.205,0.598 0.076,0.592 L0.076,0.512 L0.247,0.512 Z" fill="#000"/>
<text x="402.83" y="1062.10" font-size="28.6"> 0</text>
<line x1="433.23" y1="632.00" x2="433.23" y2="622.80" stroke="#000" stroke-width="2.0" stroke-linecap="round"/>
<line x1="433.23" y1="1010.20" x2="433.23" y2="1019.40" stroke="#000" stroke-width="2.0" stroke-linecap="round"/>
<line x1="456.15" y1="632.00" x2="456.15" y2="622.80" stroke="#000" stroke-width="2.0" stroke-linecap="round"/>
<line x1="456.15" y1="1010.20" x2="456.15" y2="1019.40" stroke="#000" stroke-width="2.0" stroke-linecap="round"/>
<line x1="479.06" y1="632.00" x2="479.06" y2="622.80" stroke="#000" stroke-width="2.0" stroke-linecap="round"/>
<line x1="479.06" y1="1010.20" x2="479.06" y2="1019.40" stroke="#000" stroke-width="2.0" stroke-linecap="round"/>
<line x1="501.98" y1="632.00" x2="501.98" y2="622.80" stroke="#000" stroke-width="2.0" stroke-linecap="round"/>
<line x1="501.98" y1="1010.20" x2="501.98" y2="1019.40" stroke="#000" stroke-width="2.0" stroke-linecap="round"/>
<line x1="524.90" y1="632.00" x2="524.90" y2="616.50" stroke="#000" stroke-width="2.8" stroke-linecap="round"/>
<line x1="524.90" y1="1010.20" x2="524.90" y2="1025.70" stroke="#000" stroke-width="2.8" stroke-linecap="round"/>
<text x="516.95" y="1062.10" font-size="28.6">0</text>
<line x1="547.82" y1="632.00" x2="547.82" y2="622.80" stroke="#000" stroke-width="2.0" stroke-linecap="round"/>
<line x1="547.82" y1="1010.20" x2="547.82" y2="1019.40" stroke="#000" stroke-width="2.0" stroke-linecap="round"/>
<line x1="570.74" y1="632.00" x2="570.74" y2="622.80" stroke="#000" stroke-width="2.0" stroke-linecap="round"/>
<line x1="570.74" y1="1010.20" x2="570.74" y2="1019.40" stroke="#000" stroke-width="2.0" stroke-linecap="round"/>
<line x1="593.65" y1="632.00" x2="593.65" y2="622.80" stroke="#000" stroke-width="2.0" stroke-linecap="round"/>
<line x1="593.65" y1="1010.20" x2="593.65" y2="1019.40" stroke="#000" stroke-width="2.0" stroke-linecap="round"/>
<line x1="616.57" y1="632.00" x2="616.57" y2="622.80" stroke="#000" stroke-width="2.0" stroke-linecap="round"/>
<line x1="616.57" y1="1010.20" x2="616.57" y2="1019.40" stroke="#000" stroke-width="2.0" stroke-linecap="round"/>
<line x1="639.49" y1="632.00" x2="639.49" y2="616.50" stroke="#000" stroke-width="2.8" stroke-linecap="round"/>
<line x1="639.49" y1="1010.20" x2="639.49" y2="1025.70" stroke="#000" stroke-width="2.8" stroke-linecap="round"/>
<path transform="translate(623.59,1062.10) scale(28.600,-28.600)" d="M0.247,0 L0.341,0 L0.341,0.713 L0.272,0.713 C0.252,0.655 0.205,0.598 0.076,0.592 L0.076,0.512 L0.247,0.512 Z" fill="#000"/>
<text x="623.59" y="1062.10" font-size="28.6"> 0</text>
<line x1="662.41" y1="632.00" x2="662.41" y2="622.80" stroke="#000" stroke-width="2.0" stroke-linecap="round"/>
<line x1="662.41" y1="1010.20" x2="662.41" y2="1019.40" stroke="#000" stroke-width="2.0" stroke-linecap="round"/>
<line x1="685.33" y1="632.00" x2="685.33" y2="622.80" stroke="#000" stroke-width="2.0" stroke-linecap="round"/>
<line x1="685.33" y1="1010.20" x2="685.33" y2="1019.40" stroke="#000" stroke-width="2.0" stroke-linecap="round"/>
<line x1="708.25" y1="632.00" x2="708.25" y2="622.80" stroke="#000" stroke-width="2.0" stroke-linecap="round"/>
<line x1="708.25" y1="1010.20" x2="708.25" y2="1019.40" stroke="#000" stroke-width="2.0" stroke-linecap="round"/>
<line x1="731.16" y1="632.00" x2="731.16" y2="622.80" stroke="#000" stroke-width="2.0" stroke-linecap="round"/>
<line x1="731.16" y1="1010.20" x2="731.16" y2="1019.40" stroke="#000" stroke-width="2.0" stroke-linecap="round"/>
<line x1="754.08" y1="632.00" x2="754.08" y2="616.50" stroke="#000" stroke-width="2.8" stroke-linecap="round"/>
<line x1="754.08" y1="1010.20" x2="754.08" y2="1025.70" stroke="#000" stroke-width="2.8" stroke-linecap="round"/>
<text x="738.18" y="1062.10" font-size="28.6">20</text>
<line x1="777.00" y1="632.00" x2="777.00" y2="622.80" stroke="#000" stroke-width="2.0" stroke-linecap="round"/>
<line x1="777.00" y1="1010.20" x2="777.00" y2="1019.40" stroke="#000" stroke-width="2.0" stroke-linecap="round"/>
<line x1="272.80" y1="1010.20" x2="257.20" y2="1010.20" stroke="#000" stroke-width="2.8" stroke-linecap="round"/>
<text x="227.09" y="1019.50" font-size="28.6">0</text>
<line x1="272.80" y1="947.17" x2="257.20" y2="947.17" stroke="#000" stroke-width="2.8" stroke-linecap="round"/>
<path transform="translate(227.09,956.47) scale(28.600,-28.600)" d="M0.247,0 L0.341,0 L0.341,0.713 L0.272,0.713 C0.252,0.655 0.205,0.598 0.076,0.592 L0.076,0.512 L0.247,0.512 Z" fill="#000"/>
<text x="227.09" y="956.47" font-size="28.6"> </text>
<line x1="272.80" y1="884.13" x2="257.20" y2="884.13" stroke="#000" stroke-width="2.8" stroke-linecap="round"/>
<text x="227.09" y="893.43" font-size="28.6">2</text>
<line x1="272.80" y1="821.10" x2="257.20" y2="821.10" stroke="#000" stroke-width="2.8" stroke-linecap="round"/>
<text x="227.09" y="830.40" font-size="28.6">3</text>
<line x1="272.80" y1="758.07" x2="257.20" y2="758.07" stroke="#000" stroke-width="2.8" stroke-linecap="round"/>
<text x="227.09" y="767.37" font-size="28.6">4</text>
<line x1="272.80" y1="695.03" x2="257.20" y2="695.03" stroke="#000" stroke-width="2.8" stroke-linecap="round"/>
<text x="227.09" y="704.33" font-size="28.6">5</text>
<line x1="272.80" y1="632.00" x2="257.20" y2="632.00" stroke="#000" stroke-width="2.8" stroke-linecap="round"/>
<text x="227.09" y="641.30" font-size="28.6">6</text>
<line x1="777.00" y1="1010.20" x2="792.50" y2="1010.20" stroke="#000" stroke-width="2.8" stroke-linecap="round"/>
<text x="807.60" y="1019.50" font-size="28.6" text-anchor="start" >4.0</text>
<line x1="777.00" y1="995.07" x2="786.20" y2="995.07" stroke="#000" stroke-width="2.0" stroke-linecap="round"/>
<line x1="777.00" y1="979.94" x2="786.20" y2="979.94" stroke="#000" stroke-width="2.0" stroke-linecap="round"/>
<line x1="777.00" y1="964.82" x2="786.20" y2="964.82" stroke="#000" stroke-width="2.0" stroke-linecap="round"/>
<line x1="777.00" y1="949.69" x2="786.20" y2="949.69" stroke="#000" stroke-width="2.0" stroke-linecap="round"/>
<line x1="777.00" y1="934.56" x2="792.50" y2="934.56" stroke="#000" stroke-width="2.8" stroke-linecap="round"/>
<text x="807.60" y="943.86" font-size="28.6" text-anchor="start" >4.2</text>
<line x1="777.00" y1="919.43" x2="786.20" y2="919.43" stroke="#000" stroke-width="2.0" stroke-linecap="round"/>
<line x1="777.00" y1="904.30" x2="786.20" y2="904.30" stroke="#000" stroke-width="2.0" stroke-linecap="round"/>
<line x1="777.00" y1="889.18" x2="786.20" y2="889.18" stroke="#000" stroke-width="2.0" stroke-linecap="round"/>
<line x1="777.00" y1="874.05" x2="786.20" y2="874.05" stroke="#000" stroke-width="2.0" stroke-linecap="round"/>
<line x1="777.00" y1="858.92" x2="792.50" y2="858.92" stroke="#000" stroke-width="2.8" stroke-linecap="round"/>
<text x="807.60" y="868.22" font-size="28.6" text-anchor="start" >4.4</text>
<line x1="777.00" y1="843.79" x2="786.20" y2="843.79" stroke="#000" stroke-width="2.0" stroke-linecap="round"/>
<line x1="777.00" y1="828.66" x2="786.20" y2="828.66" stroke="#000" stroke-width="2.0" stroke-linecap="round"/>
<line x1="777.00" y1="813.54" x2="786.20" y2="813.54" stroke="#000" stroke-width="2.0" stroke-linecap="round"/>
<line x1="777.00" y1="798.41" x2="786.20" y2="798.41" stroke="#000" stroke-width="2.0" stroke-linecap="round"/>
<line x1="777.00" y1="783.28" x2="792.50" y2="783.28" stroke="#000" stroke-width="2.8" stroke-linecap="round"/>
<text x="807.60" y="792.58" font-size="28.6" text-anchor="start" >4.6</text>
<line x1="777.00" y1="768.15" x2="786.20" y2="768.15" stroke="#000" stroke-width="2.0" stroke-linecap="round"/>
<line x1="777.00" y1="753.02" x2="786.20" y2="753.02" stroke="#000" stroke-width="2.0" stroke-linecap="round"/>
<line x1="777.00" y1="737.90" x2="786.20" y2="737.90" stroke="#000" stroke-width="2.0" stroke-linecap="round"/>
<line x1="777.00" y1="722.77" x2="786.20" y2="722.77" stroke="#000" stroke-width="2.0" stroke-linecap="round"/>
<line x1="777.00" y1="707.64" x2="792.50" y2="707.64" stroke="#000" stroke-width="2.8" stroke-linecap="round"/>
<text x="807.60" y="716.94" font-size="28.6" text-anchor="start" >4.8</text>
<line x1="777.00" y1="692.51" x2="786.20" y2="692.51" stroke="#000" stroke-width="2.0" stroke-linecap="round"/>
<line x1="777.00" y1="677.38" x2="786.20" y2="677.38" stroke="#000" stroke-width="2.0" stroke-linecap="round"/>
<line x1="777.00" y1="662.26" x2="786.20" y2="662.26" stroke="#000" stroke-width="2.0" stroke-linecap="round"/>
<line x1="777.00" y1="647.13" x2="786.20" y2="647.13" stroke="#000" stroke-width="2.0" stroke-linecap="round"/>
<line x1="777.00" y1="632.00" x2="792.50" y2="632.00" stroke="#000" stroke-width="2.8" stroke-linecap="round"/>
<text x="807.60" y="641.30" font-size="28.6" text-anchor="start" >5.0</text>
<line x1="271.30" y1="632.00" x2="778.50" y2="632.00" stroke="#000" stroke-width="3" />
<line x1="271.30" y1="1010.20" x2="778.50" y2="1010.20" stroke="#000" stroke-width="3" />
<line x1="272.80" y1="632.00" x2="272.80" y2="1010.20" stroke="#000" stroke-width="3" />
<line x1="777.00" y1="632.00" x2="777.00" y2="1010.20" stroke="#000" stroke-width="3" />
<text x="173" y="623" font-size="40" font-weight="bold">c</text>
<text transform="translate(197.6,821.3) rotate(-90)" font-size="29.4" text-anchor="middle">Integral intensity, a.u.</text>
<text x="492.44" y="1108.2" font-size="29.4" font-style="italic">I</text>
<text x="500.30" y="1108.2" font-size="29.4">,</text>
<text x="557.6" y="1108.2" font-size="28.2" text-anchor="end">mA</text>
<text transform="translate(893.9,879.0) rotate(-90) scale(0.7,0.83)" font-size="29.4" style="font-family:&quot;Liberation Serif&quot;,serif;font-style:italic">ν</text>
<text transform="translate(893.9,869.0) rotate(-90)" font-size="29.4"><tspan font-size="20.6" dy="7.8">min</tspan><tspan dy="-7.8">, GHz</tspan></text>
</svg>
</body></html>
